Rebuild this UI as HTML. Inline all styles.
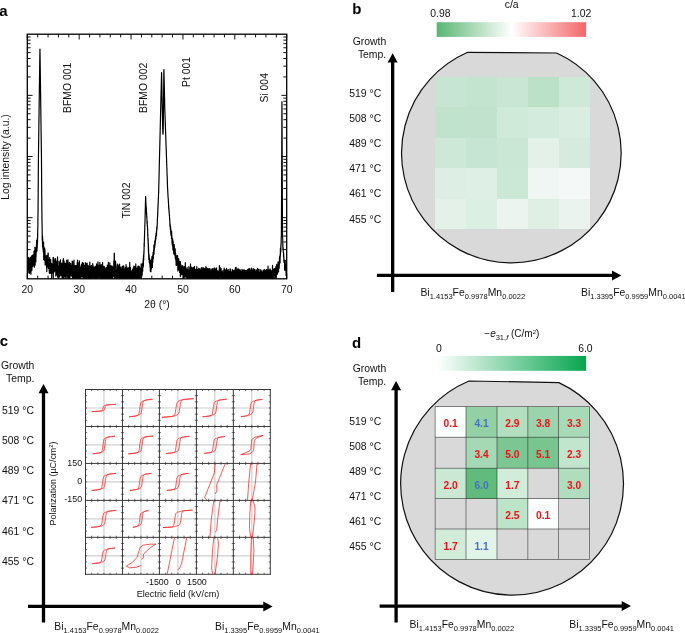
<!DOCTYPE html>
<html><head><meta charset="utf-8"><title>figure</title>
<style>
html,body{margin:0;padding:0;background:#fff;}
body{width:685px;height:633px;overflow:hidden;font-family:"Liberation Sans",sans-serif;}
svg{display:block;font-family:"Liberation Sans",sans-serif;will-change:transform;}
</style></head><body>
<svg width="685" height="633" viewBox="0 0 685 633">
<rect x="0" y="0" width="685" height="633" fill="#fff"/>
<text x="-0.7" y="16.3" font-size="15" text-anchor="start" font-weight="bold" font-style="normal" fill="#000">a</text>
<defs><clipPath id="clipA"><rect x="27.3" y="34.2" width="259.4" height="244.6"/></clipPath></defs>
<path d="M27.30 266.45 L27.35 263.06 L27.40 266.28 L27.45 266.67 L27.50 269.49 L27.55 266.16 L27.60 260.41 L27.65 263.33 L27.70 260.70 L27.75 264.04 L27.80 263.40 L27.85 264.27 L27.90 272.70 L27.95 261.38 L28.00 262.85 L28.05 262.86 L28.10 272.71 L28.15 272.93 L28.20 268.99 L28.25 267.03 L28.30 263.58 L28.35 265.06 L28.40 262.62 L28.45 267.73 L28.50 263.47 L28.55 263.09 L28.60 267.74 L28.65 257.46 L28.70 262.33 L28.75 259.61 L28.80 267.45 L28.85 267.96 L28.90 266.14 L28.95 265.03 L29.00 261.87 L29.05 263.45 L29.10 266.49 L29.15 268.77 L29.20 266.76 L29.25 259.27 L29.30 268.00 L29.35 263.30 L29.40 262.51 L29.45 270.97 L29.49 264.02 L29.54 258.75 L29.59 273.22 L29.64 265.58 L29.69 264.57 L29.74 267.73 L29.79 261.97 L29.84 264.27 L29.89 270.52 L29.94 260.50 L29.99 261.12 L30.04 259.94 L30.09 257.87 L30.14 262.29 L30.19 263.25 L30.24 269.48 L30.29 261.13 L30.34 266.34 L30.39 265.59 L30.44 269.15 L30.49 267.79 L30.54 265.81 L30.59 258.14 L30.64 272.35 L30.69 269.77 L30.74 262.31 L30.79 257.36 L30.84 260.84 L30.89 271.50 L30.94 274.16 L30.99 261.61 L31.04 266.24 L31.09 267.86 L31.14 258.96 L31.19 258.41 L31.24 262.18 L31.29 261.77 L31.34 260.96 L31.39 256.24 L31.44 260.11 L31.49 260.46 L31.54 260.29 L31.59 269.22 L31.64 257.25 L31.69 258.50 L31.74 260.15 L31.79 270.70 L31.84 264.86 L31.89 258.73 L31.94 269.78 L31.99 262.74 L32.04 257.85 L32.09 267.42 L32.14 255.40 L32.19 259.51 L32.24 262.26 L32.29 260.27 L32.34 258.93 L32.39 260.94 L32.44 256.85 L32.49 264.05 L32.54 262.93 L32.59 257.05 L32.64 260.93 L32.69 264.65 L32.74 257.21 L32.79 255.12 L32.84 262.57 L32.89 266.37 L32.94 261.10 L32.99 261.07 L33.04 261.60 L33.09 254.90 L33.14 264.43 L33.19 255.29 L33.24 265.22 L33.29 263.14 L33.34 257.42 L33.39 255.44 L33.44 256.37 L33.49 258.21 L33.54 258.88 L33.59 258.74 L33.64 257.05 L33.69 259.81 L33.74 257.95 L33.79 256.74 L33.83 258.76 L33.88 255.82 L33.93 256.44 L33.98 251.00 L34.03 257.10 L34.08 259.86 L34.13 259.52 L34.18 257.97 L34.23 254.43 L34.28 258.98 L34.33 256.13 L34.38 250.76 L34.43 267.23 L34.48 261.48 L34.53 256.10 L34.58 255.41 L34.63 255.83 L34.68 258.19 L34.73 254.06 L34.78 255.24 L34.83 258.06 L34.88 247.39 L34.93 254.51 L34.98 257.68 L35.03 255.80 L35.08 256.10 L35.13 255.32 L35.18 265.04 L35.23 256.53 L35.28 251.11 L35.33 258.66 L35.38 254.42 L35.43 250.77 L35.48 250.92 L35.53 248.60 L35.58 259.54 L35.63 254.47 L35.68 254.21 L35.73 250.73 L35.78 248.98 L35.83 261.83 L35.88 248.59 L35.93 256.98 L35.98 249.48 L36.03 256.63 L36.08 250.65 L36.13 247.17 L36.18 251.24 L36.23 249.87 L36.28 247.72 L36.33 249.52 L36.38 249.99 L36.43 244.69 L36.48 245.92 L36.53 249.83 L36.58 240.23 L36.63 252.01 L36.68 245.22 L36.73 248.50 L36.78 246.92 L36.83 244.90 L36.88 245.97 L36.93 244.39 L36.98 250.62 L37.03 250.12 L37.08 243.28 L37.13 247.50 L37.18 247.19 L37.23 247.96 L37.28 239.57 L37.33 240.42 L37.38 237.86 L37.43 243.76 L37.48 240.33 L37.53 242.64 L37.58 236.52 L37.63 233.08 L37.68 237.43 L37.73 229.53 L37.78 228.43 L37.83 228.05 L37.88 228.39 L37.93 217.97 L37.98 216.36 L38.03 212.42 L38.08 205.66 L38.12 199.79 L38.17 192.37 L38.22 188.43 L38.27 179.53 L38.32 172.29 L38.37 165.17 L38.42 158.78 L38.47 154.97 L38.52 150.56 L38.57 147.46 L38.62 143.92 L38.67 139.85 L38.72 136.95 L38.77 134.12 L38.82 129.81 L38.87 126.69 L38.92 122.25 L38.97 118.79 L39.02 115.42 L39.07 111.64 L39.12 107.84 L39.17 104.37 L39.22 100.51 L39.27 97.13 L39.32 93.31 L39.37 89.62 L39.42 85.97 L39.47 82.65 L39.52 78.80 L39.57 75.50 L39.62 71.74 L39.67 68.18 L39.72 64.22 L39.77 60.78 L39.82 57.02 L39.87 53.38 L39.92 49.71 L39.97 49.13 L40.02 52.72 L40.07 56.25 L40.12 60.04 L40.17 63.65 L40.22 67.25 L40.27 71.02 L40.32 74.80 L40.37 78.36 L40.42 81.80 L40.47 85.83 L40.52 89.32 L40.57 92.70 L40.62 96.36 L40.67 100.13 L40.72 103.61 L40.77 107.36 L40.82 111.31 L40.87 115.05 L40.92 118.44 L40.97 121.61 L41.02 125.65 L41.07 129.38 L41.12 132.94 L41.17 136.84 L41.22 139.86 L41.27 143.90 L41.32 146.75 L41.37 151.65 L41.42 153.80 L41.47 157.84 L41.52 166.14 L41.57 171.64 L41.62 179.54 L41.67 188.46 L41.72 193.89 L41.77 198.92 L41.82 205.90 L41.87 209.48 L41.92 214.25 L41.97 218.67 L42.02 223.13 L42.07 224.52 L42.12 228.78 L42.17 231.74 L42.22 240.12 L42.27 234.62 L42.32 235.09 L42.37 240.27 L42.42 241.61 L42.46 236.06 L42.51 246.80 L42.56 241.22 L42.61 236.55 L42.66 246.37 L42.71 242.27 L42.76 239.43 L42.81 245.49 L42.86 243.98 L42.91 243.41 L42.96 249.17 L43.01 247.03 L43.06 246.26 L43.11 245.05 L43.16 247.91 L43.21 248.75 L43.26 251.70 L43.31 249.90 L43.36 246.37 L43.41 249.03 L43.46 252.42 L43.51 252.67 L43.56 241.99 L43.61 246.93 L43.66 248.73 L43.71 259.67 L43.76 249.27 L43.81 249.95 L43.86 246.39 L43.91 250.59 L43.96 252.41 L44.01 250.74 L44.06 259.37 L44.11 249.53 L44.16 252.03 L44.21 255.76 L44.26 249.19 L44.31 247.80 L44.36 258.90 L44.41 256.50 L44.46 253.37 L44.51 253.92 L44.56 256.16 L44.61 258.43 L44.66 247.99 L44.71 251.79 L44.76 259.82 L44.81 260.57 L44.86 250.03 L44.91 252.63 L44.96 249.94 L45.01 253.56 L45.06 259.75 L45.11 255.77 L45.16 264.91 L45.21 259.79 L45.26 257.37 L45.31 255.47 L45.36 260.20 L45.41 258.07 L45.46 256.13 L45.51 256.56 L45.56 255.78 L45.61 257.43 L45.66 259.56 L45.71 255.64 L45.76 258.41 L45.81 261.91 L45.86 261.27 L45.91 258.98 L45.96 259.53 L46.01 258.66 L46.06 259.35 L46.11 258.83 L46.16 260.12 L46.21 264.66 L46.26 258.28 L46.31 256.08 L46.36 258.45 L46.41 260.91 L46.46 258.62 L46.51 264.22 L46.56 268.04 L46.61 260.36 L46.66 264.41 L46.71 258.04 L46.75 265.24 L46.80 271.56 L46.85 265.27 L46.90 255.28 L46.95 262.82 L47.00 266.91 L47.05 264.55 L47.10 259.59 L47.15 259.77 L47.20 261.06 L47.25 256.21 L47.30 259.22 L47.35 262.07 L47.40 259.80 L47.45 255.86 L47.50 258.53 L47.55 258.41 L47.60 266.85 L47.65 263.08 L47.70 259.75 L47.75 263.84 L47.80 258.59 L47.85 260.47 L47.90 259.34 L47.95 263.79 L48.00 253.16 L48.05 258.26 L48.10 264.02 L48.15 262.84 L48.20 253.20 L48.25 264.76 L48.30 259.99 L48.35 259.64 L48.40 263.49 L48.45 268.48 L48.50 262.91 L48.55 262.30 L48.60 259.35 L48.65 260.76 L48.70 263.78 L48.75 260.59 L48.80 261.88 L48.85 263.24 L48.90 263.89 L48.95 265.20 L49.00 261.52 L49.05 268.75 L49.10 267.00 L49.15 264.36 L49.20 270.67 L49.25 266.34 L49.30 273.11 L49.35 267.50 L49.40 262.38 L49.45 262.44 L49.50 264.96 L49.55 265.77 L49.60 270.90 L49.65 257.61 L49.70 262.87 L49.75 260.61 L49.80 268.81 L49.85 265.85 L49.90 272.94 L49.95 262.03 L50.00 261.45 L50.05 273.42 L50.10 265.50 L50.15 262.79 L50.20 272.98 L50.25 273.30 L50.30 270.05 L50.35 268.20 L50.40 271.60 L50.45 265.43 L50.50 264.59 L50.55 263.08 L50.60 262.84 L50.65 259.66 L50.70 261.05 L50.75 271.49 L50.80 268.02 L50.85 270.47 L50.90 270.58 L50.95 266.28 L51.00 265.94 L51.05 264.01 L51.09 272.96 L51.14 271.47 L51.19 266.20 L51.24 267.00 L51.29 267.52 L51.34 266.47 L51.39 269.55 L51.44 263.41 L51.49 264.85 L51.54 266.70 L51.59 269.30 L51.64 267.15 L51.69 278.37 L51.74 270.75 L51.79 266.32 L51.84 273.12 L51.89 265.72 L51.94 265.96 L51.99 272.65 L52.04 267.72 L52.09 268.03 L52.14 264.79 L52.19 264.20 L52.24 266.89 L52.29 270.51 L52.34 267.42 L52.39 267.09 L52.44 263.83 L52.49 265.65 L52.54 270.08 L52.59 272.90 L52.64 268.58 L52.69 270.24 L52.74 271.91 L52.79 267.52 L52.84 269.21 L52.89 266.62 L52.94 264.93 L52.99 268.94 L53.04 257.58 L53.09 268.58 L53.14 262.65 L53.19 266.70 L53.24 262.63 L53.29 277.80 L53.34 270.60 L53.39 266.27 L53.44 264.83 L53.49 257.71 L53.54 266.02 L53.59 262.10 L53.64 264.24 L53.69 263.51 L53.74 265.33 L53.79 268.15 L53.84 265.38 L53.89 272.30 L53.94 262.64 L53.99 272.07 L54.04 266.53 L54.09 258.82 L54.14 268.59 L54.19 267.54 L54.24 262.83 L54.29 267.55 L54.34 271.28 L54.39 266.62 L54.44 265.30 L54.49 264.79 L54.54 271.20 L54.59 260.51 L54.64 260.88 L54.69 267.73 L54.74 266.71 L54.79 269.75 L54.84 262.00 L54.89 271.03 L54.94 265.10 L54.99 270.05 L55.04 271.03 L55.09 264.96 L55.14 262.42 L55.19 268.02 L55.24 271.03 L55.29 264.64 L55.34 268.25 L55.39 266.75 L55.43 261.73 L55.48 263.37 L55.53 270.42 L55.58 258.62 L55.63 268.10 L55.68 264.87 L55.73 271.05 L55.78 268.36 L55.83 276.04 L55.88 260.77 L55.93 262.53 L55.98 273.68 L56.03 275.00 L56.08 275.54 L56.13 263.38 L56.18 270.35 L56.23 268.57 L56.28 269.72 L56.33 268.87 L56.38 273.23 L56.43 268.25 L56.48 274.84 L56.53 268.70 L56.58 267.11 L56.63 266.46 L56.68 269.46 L56.73 272.50 L56.78 267.78 L56.83 270.64 L56.88 261.95 L56.93 265.29 L56.98 269.02 L57.03 270.64 L57.08 271.69 L57.13 272.76 L57.18 270.14 L57.23 267.34 L57.28 266.43 L57.33 266.22 L57.38 259.85 L57.43 271.79 L57.48 268.57 L57.53 256.97 L57.58 277.07 L57.63 271.01 L57.68 267.97 L57.73 268.04 L57.78 267.00 L57.83 269.79 L57.88 267.19 L57.93 268.51 L57.98 265.52 L58.03 277.29 L58.08 272.76 L58.13 268.79 L58.18 273.45 L58.23 273.52 L58.28 266.19 L58.33 271.76 L58.38 266.18 L58.43 265.73 L58.48 267.58 L58.53 266.74 L58.58 269.35 L58.63 275.25 L58.68 269.04 L58.73 267.01 L58.78 271.31 L58.83 269.38 L58.88 265.81 L58.93 272.92 L58.98 266.29 L59.03 261.18 L59.08 271.49 L59.13 268.38 L59.18 269.68 L59.23 262.57 L59.28 267.70 L59.33 265.28 L59.38 272.16 L59.43 269.13 L59.48 269.11 L59.53 277.10 L59.58 263.05 L59.63 265.33 L59.68 277.01 L59.72 265.99 L59.77 269.71 L59.82 267.25 L59.87 267.60 L59.92 275.92 L59.97 270.12 L60.02 262.92 L60.07 271.77 L60.12 273.81 L60.17 275.34 L60.22 274.72 L60.27 267.81 L60.32 262.13 L60.37 267.43 L60.42 268.21 L60.47 259.89 L60.52 271.61 L60.57 272.31 L60.62 267.06 L60.67 266.98 L60.72 273.88 L60.77 274.59 L60.82 268.09 L60.87 268.28 L60.92 275.24 L60.97 270.25 L61.02 271.80 L61.07 267.42 L61.12 269.89 L61.17 269.76 L61.22 270.97 L61.27 264.97 L61.32 263.57 L61.37 271.06 L61.42 265.86 L61.47 272.84 L61.52 269.12 L61.57 266.29 L61.62 263.10 L61.67 271.18 L61.72 269.79 L61.77 268.64 L61.82 276.25 L61.87 269.41 L61.92 272.55 L61.97 267.94 L62.02 274.62 L62.07 278.46 L62.12 269.36 L62.17 268.43 L62.22 272.02 L62.27 265.82 L62.32 270.78 L62.37 272.30 L62.42 267.56 L62.47 276.67 L62.52 272.64 L62.57 269.68 L62.62 266.03 L62.67 270.34 L62.72 268.31 L62.77 272.58 L62.82 268.36 L62.87 262.66 L62.92 272.74 L62.97 259.73 L63.02 272.56 L63.07 269.58 L63.12 268.94 L63.17 265.38 L63.22 275.28 L63.27 279.19 L63.32 267.15 L63.37 266.37 L63.42 267.09 L63.47 258.69 L63.52 268.86 L63.57 268.66 L63.62 265.84 L63.67 268.19 L63.72 262.78 L63.77 275.36 L63.82 271.46 L63.87 285.35 L63.92 266.37 L63.97 271.46 L64.02 265.91 L64.06 260.77 L64.11 269.83 L64.16 270.96 L64.21 272.07 L64.26 273.61 L64.31 272.68 L64.36 267.15 L64.41 269.68 L64.46 269.57 L64.51 270.63 L64.56 266.03 L64.61 267.79 L64.66 270.51 L64.71 267.09 L64.76 270.57 L64.81 275.10 L64.86 263.80 L64.91 267.95 L64.96 274.24 L65.01 265.39 L65.06 268.47 L65.11 277.00 L65.16 263.19 L65.21 268.54 L65.26 266.21 L65.31 269.12 L65.36 270.63 L65.41 276.96 L65.46 265.90 L65.51 269.85 L65.56 271.27 L65.61 268.52 L65.66 269.66 L65.71 267.17 L65.76 271.68 L65.81 270.17 L65.86 279.68 L65.91 271.93 L65.96 267.20 L66.01 264.44 L66.06 271.68 L66.11 270.59 L66.16 263.42 L66.21 271.53 L66.26 266.99 L66.31 263.04 L66.36 269.90 L66.41 264.94 L66.46 273.29 L66.51 269.22 L66.56 270.44 L66.61 269.62 L66.66 265.38 L66.71 260.11 L66.76 273.12 L66.81 272.72 L66.86 268.05 L66.91 274.90 L66.96 268.06 L67.01 267.75 L67.06 271.40 L67.11 267.93 L67.16 277.16 L67.21 266.99 L67.26 277.15 L67.31 273.32 L67.36 272.69 L67.41 272.00 L67.46 266.60 L67.51 269.85 L67.56 272.00 L67.61 267.93 L67.66 263.60 L67.71 270.19 L67.76 268.69 L67.81 265.04 L67.86 269.11 L67.91 276.03 L67.96 259.83 L68.01 261.02 L68.06 279.21 L68.11 270.43 L68.16 268.52 L68.21 266.23 L68.26 267.48 L68.31 271.51 L68.36 275.04 L68.40 269.86 L68.45 265.97 L68.50 275.22 L68.55 274.94 L68.60 270.42 L68.65 279.06 L68.70 271.49 L68.75 272.29 L68.80 268.44 L68.85 273.50 L68.90 274.32 L68.95 272.12 L69.00 270.57 L69.05 273.35 L69.10 270.31 L69.15 267.23 L69.20 265.42 L69.25 263.25 L69.30 273.91 L69.35 272.27 L69.40 281.58 L69.45 262.46 L69.50 273.66 L69.55 270.55 L69.60 268.22 L69.65 276.54 L69.70 268.48 L69.75 270.54 L69.80 278.66 L69.85 269.21 L69.90 265.45 L69.95 278.86 L70.00 267.07 L70.05 269.57 L70.10 268.47 L70.15 268.61 L70.20 265.02 L70.25 271.47 L70.30 266.82 L70.35 272.32 L70.40 267.44 L70.45 274.15 L70.50 270.98 L70.55 263.27 L70.60 268.64 L70.65 271.21 L70.70 275.66 L70.75 274.07 L70.80 269.71 L70.85 266.60 L70.90 268.75 L70.95 268.34 L71.00 270.72 L71.05 264.90 L71.10 272.30 L71.15 273.02 L71.20 266.85 L71.25 270.29 L71.30 271.81 L71.35 273.16 L71.40 271.72 L71.45 267.97 L71.50 269.10 L71.55 276.02 L71.60 268.81 L71.65 269.84 L71.70 275.09 L71.75 267.38 L71.80 271.86 L71.85 272.12 L71.90 267.30 L71.95 265.11 L72.00 273.72 L72.05 268.80 L72.10 274.57 L72.15 260.99 L72.20 272.86 L72.25 265.66 L72.30 273.56 L72.35 267.27 L72.40 261.41 L72.45 282.08 L72.50 272.61 L72.55 268.58 L72.60 271.09 L72.65 273.68 L72.69 261.72 L72.74 270.35 L72.79 278.08 L72.84 267.14 L72.89 278.43 L72.94 265.91 L72.99 273.30 L73.04 270.10 L73.09 265.46 L73.14 270.22 L73.19 276.97 L73.24 278.34 L73.29 265.81 L73.34 267.65 L73.39 274.40 L73.44 267.16 L73.49 268.68 L73.54 268.05 L73.59 280.89 L73.64 272.11 L73.69 267.01 L73.74 267.71 L73.79 267.10 L73.84 281.80 L73.89 270.07 L73.94 268.73 L73.99 260.18 L74.04 275.07 L74.09 272.27 L74.14 270.64 L74.19 267.12 L74.24 272.79 L74.29 266.04 L74.34 274.34 L74.39 269.70 L74.44 273.18 L74.49 270.16 L74.54 273.92 L74.59 277.99 L74.64 266.29 L74.69 269.58 L74.74 273.34 L74.79 270.01 L74.84 266.74 L74.89 275.23 L74.94 271.35 L74.99 268.62 L75.04 268.68 L75.09 272.37 L75.14 280.31 L75.19 265.72 L75.24 269.51 L75.29 270.83 L75.34 272.13 L75.39 269.80 L75.44 272.80 L75.49 275.49 L75.54 274.21 L75.59 273.58 L75.64 273.65 L75.69 276.10 L75.74 268.28 L75.79 276.78 L75.84 268.19 L75.89 275.47 L75.94 269.47 L75.99 265.24 L76.04 270.09 L76.09 274.21 L76.14 270.74 L76.19 270.33 L76.24 278.71 L76.29 273.67 L76.34 270.28 L76.39 273.06 L76.44 270.63 L76.49 267.93 L76.54 267.80 L76.59 267.22 L76.64 268.54 L76.69 272.27 L76.74 271.07 L76.79 272.20 L76.84 272.39 L76.89 271.80 L76.94 278.71 L76.99 272.49 L77.03 271.12 L77.08 275.37 L77.13 271.12 L77.18 268.88 L77.23 271.76 L77.28 262.43 L77.33 282.68 L77.38 271.95 L77.43 279.19 L77.48 266.98 L77.53 260.06 L77.58 282.23 L77.63 270.52 L77.68 268.91 L77.73 272.41 L77.78 268.78 L77.83 281.08 L77.88 267.54 L77.93 269.53 L77.98 270.98 L78.03 273.70 L78.08 268.44 L78.13 273.25 L78.18 270.17 L78.23 273.37 L78.28 281.13 L78.33 271.24 L78.38 270.27 L78.43 267.99 L78.48 275.02 L78.53 271.26 L78.58 268.56 L78.63 270.52 L78.68 265.99 L78.73 262.90 L78.78 275.18 L78.83 279.70 L78.88 267.60 L78.93 264.82 L78.98 267.33 L79.03 267.78 L79.08 273.91 L79.13 274.33 L79.18 267.49 L79.23 275.22 L79.28 279.25 L79.33 275.61 L79.38 260.88 L79.43 263.23 L79.48 274.23 L79.53 274.43 L79.58 270.23 L79.63 274.52 L79.68 265.78 L79.73 271.54 L79.78 276.03 L79.83 265.80 L79.88 273.80 L79.93 270.29 L79.98 271.26 L80.03 272.61 L80.08 269.87 L80.13 274.30 L80.18 279.43 L80.23 281.05 L80.28 276.87 L80.33 274.61 L80.38 271.33 L80.43 271.01 L80.48 268.95 L80.53 270.75 L80.58 274.78 L80.63 274.40 L80.68 280.68 L80.73 272.01 L80.78 269.26 L80.83 269.08 L80.88 271.80 L80.93 272.04 L80.98 267.41 L81.03 271.21 L81.08 268.24 L81.13 268.88 L81.18 270.41 L81.23 265.91 L81.28 273.84 L81.33 272.89 L81.37 274.89 L81.42 274.84 L81.47 264.90 L81.52 264.06 L81.57 271.21 L81.62 268.97 L81.67 266.48 L81.72 268.00 L81.77 266.36 L81.82 276.93 L81.87 274.17 L81.92 269.47 L81.97 265.43 L82.02 270.91 L82.07 275.15 L82.12 272.92 L82.17 274.28 L82.22 275.16 L82.27 265.18 L82.32 274.13 L82.37 271.27 L82.42 262.47 L82.47 266.49 L82.52 269.99 L82.57 274.09 L82.62 269.69 L82.67 264.71 L82.72 268.82 L82.77 266.20 L82.82 270.98 L82.87 269.27 L82.92 272.28 L82.97 269.64 L83.02 266.06 L83.07 277.75 L83.12 271.68 L83.17 270.42 L83.22 273.94 L83.27 272.78 L83.32 268.18 L83.37 263.20 L83.42 268.84 L83.47 270.08 L83.52 278.30 L83.57 263.52 L83.62 271.12 L83.67 271.59 L83.72 276.39 L83.77 271.69 L83.82 276.30 L83.87 271.16 L83.92 269.54 L83.97 271.32 L84.02 270.31 L84.07 275.23 L84.12 265.60 L84.17 274.36 L84.22 279.52 L84.27 272.30 L84.32 274.85 L84.37 275.95 L84.42 273.05 L84.47 270.29 L84.52 276.71 L84.57 272.10 L84.62 265.65 L84.67 268.70 L84.72 272.17 L84.77 270.98 L84.82 272.03 L84.87 271.72 L84.92 268.51 L84.97 271.92 L85.02 282.15 L85.07 271.61 L85.12 275.45 L85.17 268.86 L85.22 274.22 L85.27 270.92 L85.32 262.62 L85.37 276.16 L85.42 276.51 L85.47 277.78 L85.52 282.12 L85.57 279.84 L85.62 270.06 L85.67 274.37 L85.71 279.81 L85.76 278.10 L85.81 269.03 L85.86 274.99 L85.91 273.18 L85.96 270.22 L86.01 266.02 L86.06 263.64 L86.11 267.35 L86.16 270.99 L86.21 270.83 L86.26 264.22 L86.31 265.75 L86.36 272.96 L86.41 269.72 L86.46 270.42 L86.51 271.38 L86.56 273.81 L86.61 277.45 L86.66 273.96 L86.71 278.42 L86.76 266.61 L86.81 269.42 L86.86 276.93 L86.91 265.92 L86.96 267.98 L87.01 280.04 L87.06 264.11 L87.11 268.32 L87.16 263.21 L87.21 277.06 L87.26 269.47 L87.31 269.91 L87.36 270.82 L87.41 270.95 L87.46 267.35 L87.51 278.24 L87.56 277.13 L87.61 277.80 L87.66 274.12 L87.71 274.33 L87.76 270.17 L87.81 270.58 L87.86 271.54 L87.91 274.65 L87.96 273.62 L88.01 267.80 L88.06 268.57 L88.11 271.27 L88.16 273.11 L88.21 265.36 L88.26 274.31 L88.31 269.05 L88.36 267.00 L88.41 272.87 L88.46 268.34 L88.51 276.61 L88.56 267.58 L88.61 270.90 L88.66 278.69 L88.71 268.99 L88.76 275.64 L88.81 266.50 L88.86 274.71 L88.91 272.45 L88.96 270.58 L89.01 273.19 L89.06 270.68 L89.11 274.17 L89.16 269.01 L89.21 271.72 L89.26 270.89 L89.31 283.84 L89.36 267.03 L89.41 271.62 L89.46 279.59 L89.51 271.37 L89.56 269.86 L89.61 267.41 L89.66 276.52 L89.71 265.48 L89.76 272.47 L89.81 262.04 L89.86 272.42 L89.91 269.02 L89.96 273.39 L90.00 276.68 L90.05 267.33 L90.10 268.11 L90.15 265.54 L90.20 268.31 L90.25 274.31 L90.30 279.09 L90.35 274.66 L90.40 274.76 L90.45 275.38 L90.50 269.44 L90.55 270.48 L90.60 273.00 L90.65 271.12 L90.70 272.46 L90.75 270.96 L90.80 268.77 L90.85 267.93 L90.90 274.84 L90.95 278.44 L91.00 266.04 L91.05 271.37 L91.10 267.35 L91.15 279.04 L91.20 273.29 L91.25 271.74 L91.30 278.16 L91.35 274.11 L91.40 268.92 L91.45 267.48 L91.50 265.40 L91.55 275.64 L91.60 278.00 L91.65 269.76 L91.70 268.06 L91.75 271.09 L91.80 277.57 L91.85 268.71 L91.90 268.67 L91.95 269.64 L92.00 274.02 L92.05 270.66 L92.10 268.69 L92.15 274.34 L92.20 279.96 L92.25 270.57 L92.30 269.95 L92.35 271.85 L92.40 268.31 L92.45 274.47 L92.50 272.27 L92.55 273.25 L92.60 269.60 L92.65 265.46 L92.70 273.02 L92.75 263.61 L92.80 265.74 L92.85 268.73 L92.90 269.55 L92.95 264.77 L93.00 272.72 L93.05 272.43 L93.10 276.58 L93.15 270.03 L93.20 266.51 L93.25 269.79 L93.30 270.24 L93.35 272.83 L93.40 271.27 L93.45 278.18 L93.50 267.72 L93.55 273.75 L93.60 276.78 L93.65 275.24 L93.70 275.57 L93.75 268.52 L93.80 267.70 L93.85 277.90 L93.90 268.24 L93.95 268.39 L94.00 274.51 L94.05 278.47 L94.10 275.24 L94.15 274.75 L94.20 270.61 L94.25 273.55 L94.30 280.84 L94.34 271.06 L94.39 278.69 L94.44 268.35 L94.49 277.26 L94.54 275.03 L94.59 275.73 L94.64 274.38 L94.69 266.78 L94.74 268.58 L94.79 269.59 L94.84 270.73 L94.89 278.76 L94.94 274.29 L94.99 274.43 L95.04 276.29 L95.09 269.98 L95.14 275.26 L95.19 275.13 L95.24 276.59 L95.29 281.00 L95.34 269.65 L95.39 266.69 L95.44 271.35 L95.49 276.30 L95.54 283.82 L95.59 271.36 L95.64 267.16 L95.69 270.87 L95.74 268.33 L95.79 266.12 L95.84 267.53 L95.89 273.99 L95.94 267.84 L95.99 268.95 L96.04 278.76 L96.09 273.84 L96.14 278.27 L96.19 272.56 L96.24 269.76 L96.29 276.73 L96.34 281.02 L96.39 266.87 L96.44 270.58 L96.49 266.18 L96.54 277.85 L96.59 267.84 L96.64 263.77 L96.69 264.04 L96.74 273.02 L96.79 271.03 L96.84 272.78 L96.89 268.10 L96.94 267.95 L96.99 271.77 L97.04 278.02 L97.09 269.15 L97.14 274.17 L97.19 269.60 L97.24 271.08 L97.29 265.61 L97.34 267.57 L97.39 274.10 L97.44 270.74 L97.49 265.06 L97.54 274.48 L97.59 270.41 L97.64 267.37 L97.69 267.11 L97.74 270.07 L97.79 277.88 L97.84 277.62 L97.89 271.17 L97.94 270.61 L97.99 261.95 L98.04 275.90 L98.09 267.61 L98.14 269.08 L98.19 279.42 L98.24 275.72 L98.29 271.51 L98.34 274.32 L98.39 272.85 L98.44 270.30 L98.49 275.69 L98.54 270.32 L98.59 274.95 L98.63 274.55 L98.68 270.05 L98.73 274.68 L98.78 271.05 L98.83 265.80 L98.88 272.10 L98.93 272.84 L98.98 269.27 L99.03 273.79 L99.08 267.88 L99.13 277.76 L99.18 269.74 L99.23 274.44 L99.28 275.68 L99.33 265.14 L99.38 275.90 L99.43 265.20 L99.48 269.60 L99.53 266.42 L99.58 276.46 L99.63 267.44 L99.68 266.41 L99.73 272.75 L99.78 272.80 L99.83 262.43 L99.88 271.54 L99.93 274.08 L99.98 274.97 L100.03 270.47 L100.08 270.94 L100.13 271.55 L100.18 265.38 L100.23 273.68 L100.28 270.38 L100.33 266.44 L100.38 276.60 L100.43 268.12 L100.48 264.96 L100.53 278.12 L100.58 277.01 L100.63 276.76 L100.68 280.25 L100.73 270.48 L100.78 280.29 L100.83 270.30 L100.88 266.49 L100.93 279.26 L100.98 273.66 L101.03 280.57 L101.08 269.19 L101.13 275.48 L101.18 273.45 L101.23 272.09 L101.28 270.13 L101.33 273.81 L101.38 272.25 L101.43 274.67 L101.48 271.86 L101.53 277.37 L101.58 272.07 L101.63 280.65 L101.68 274.44 L101.73 264.69 L101.78 272.01 L101.83 277.76 L101.88 271.31 L101.93 276.52 L101.98 279.45 L102.03 275.51 L102.08 269.41 L102.13 270.82 L102.18 272.76 L102.23 276.34 L102.28 276.99 L102.33 266.98 L102.38 271.38 L102.43 276.45 L102.48 281.44 L102.53 278.25 L102.58 262.51 L102.63 277.31 L102.68 272.70 L102.73 271.53 L102.78 273.05 L102.83 273.57 L102.88 278.28 L102.93 276.90 L102.97 265.66 L103.02 275.63 L103.07 269.02 L103.12 279.66 L103.17 273.57 L103.22 271.35 L103.27 268.27 L103.32 277.22 L103.37 270.03 L103.42 270.86 L103.47 275.57 L103.52 270.51 L103.57 276.26 L103.62 275.82 L103.67 272.49 L103.72 284.06 L103.77 272.88 L103.82 276.71 L103.87 278.69 L103.92 274.24 L103.97 269.39 L104.02 274.16 L104.07 267.40 L104.12 277.40 L104.17 278.06 L104.22 266.27 L104.27 270.85 L104.32 268.68 L104.37 275.98 L104.42 269.25 L104.47 271.41 L104.52 269.87 L104.57 272.35 L104.62 267.66 L104.67 275.23 L104.72 276.58 L104.77 278.78 L104.82 267.85 L104.87 275.62 L104.92 276.93 L104.97 276.49 L105.02 274.37 L105.07 277.91 L105.12 273.71 L105.17 275.16 L105.22 274.83 L105.27 276.58 L105.32 272.33 L105.37 274.45 L105.42 272.02 L105.47 271.49 L105.52 271.14 L105.57 281.85 L105.62 274.78 L105.67 275.89 L105.72 269.43 L105.77 279.24 L105.82 275.55 L105.87 273.75 L105.92 273.94 L105.97 268.58 L106.02 274.40 L106.07 268.69 L106.12 278.77 L106.17 280.25 L106.22 267.69 L106.27 270.79 L106.32 270.59 L106.37 272.03 L106.42 270.60 L106.47 277.71 L106.52 268.77 L106.57 274.80 L106.62 268.63 L106.67 272.18 L106.72 280.96 L106.77 278.03 L106.82 268.08 L106.87 273.12 L106.92 274.23 L106.97 271.58 L107.02 274.36 L107.07 274.87 L107.12 272.14 L107.17 271.98 L107.22 266.56 L107.27 272.37 L107.31 265.13 L107.36 265.44 L107.41 265.78 L107.46 268.37 L107.51 272.05 L107.56 272.02 L107.61 273.17 L107.66 275.68 L107.71 272.85 L107.76 275.30 L107.81 266.10 L107.86 270.47 L107.91 274.48 L107.96 280.74 L108.01 272.81 L108.06 274.36 L108.11 277.21 L108.16 277.43 L108.21 282.17 L108.26 270.35 L108.31 272.87 L108.36 262.42 L108.41 272.73 L108.46 273.23 L108.51 266.91 L108.56 272.07 L108.61 271.94 L108.66 274.19 L108.71 275.18 L108.76 266.70 L108.81 268.67 L108.86 265.85 L108.91 274.10 L108.96 272.50 L109.01 276.36 L109.06 268.81 L109.11 278.55 L109.16 270.40 L109.21 268.31 L109.26 267.07 L109.31 276.63 L109.36 268.34 L109.41 275.67 L109.46 275.85 L109.51 278.26 L109.56 268.09 L109.61 266.16 L109.66 275.17 L109.71 275.87 L109.76 274.09 L109.81 262.79 L109.86 268.70 L109.91 274.96 L109.96 280.27 L110.01 275.51 L110.06 267.99 L110.11 265.32 L110.16 273.79 L110.21 275.60 L110.26 274.83 L110.31 280.67 L110.36 269.10 L110.41 277.28 L110.46 268.50 L110.51 279.92 L110.56 278.06 L110.61 271.55 L110.66 275.92 L110.71 269.62 L110.76 272.65 L110.81 277.67 L110.86 270.25 L110.91 269.39 L110.96 280.80 L111.01 265.53 L111.06 270.74 L111.11 269.71 L111.16 280.58 L111.21 275.75 L111.26 274.18 L111.31 268.48 L111.36 278.89 L111.41 276.45 L111.46 281.31 L111.51 273.73 L111.56 271.36 L111.60 279.85 L111.65 275.22 L111.70 270.72 L111.75 266.51 L111.80 270.12 L111.85 274.01 L111.90 277.71 L111.95 276.69 L112.00 275.54 L112.05 272.16 L112.10 272.94 L112.15 266.21 L112.20 271.61 L112.25 277.27 L112.30 266.69 L112.35 269.03 L112.40 272.35 L112.45 275.79 L112.50 280.66 L112.55 277.07 L112.60 269.18 L112.65 276.15 L112.70 278.33 L112.75 271.99 L112.80 271.80 L112.85 270.39 L112.90 270.20 L112.95 267.25 L113.00 276.31 L113.05 268.94 L113.10 276.94 L113.15 270.06 L113.20 272.07 L113.25 271.82 L113.30 268.99 L113.35 272.85 L113.40 268.43 L113.45 269.36 L113.50 272.25 L113.55 275.17 L113.60 275.96 L113.65 274.99 L113.70 273.57 L113.75 272.71 L113.80 260.82 L113.85 269.45 L113.90 268.15 L113.95 273.14 L114.00 270.53 L114.05 266.58 L114.10 262.12 L114.15 263.60 L114.20 253.25 L114.25 258.34 L114.30 253.01 L114.35 263.79 L114.40 257.95 L114.45 259.20 L114.50 262.01 L114.55 263.25 L114.60 266.73 L114.65 269.06 L114.70 278.74 L114.75 274.85 L114.80 282.17 L114.85 270.20 L114.90 271.56 L114.95 273.63 L115.00 276.28 L115.05 275.28 L115.10 265.65 L115.15 266.10 L115.20 273.09 L115.25 267.83 L115.30 279.53 L115.35 280.99 L115.40 274.88 L115.45 276.53 L115.50 275.20 L115.55 272.12 L115.60 261.08 L115.65 275.64 L115.70 272.67 L115.75 271.79 L115.80 273.01 L115.85 269.24 L115.90 265.96 L115.94 278.09 L115.99 272.24 L116.04 273.99 L116.09 271.49 L116.14 279.31 L116.19 280.26 L116.24 282.61 L116.29 270.84 L116.34 272.14 L116.39 272.60 L116.44 282.82 L116.49 274.46 L116.54 276.06 L116.59 278.82 L116.64 276.73 L116.69 270.18 L116.74 270.78 L116.79 272.99 L116.84 270.90 L116.89 275.43 L116.94 272.63 L116.99 272.75 L117.04 270.75 L117.09 273.20 L117.14 273.51 L117.19 273.48 L117.24 275.62 L117.29 264.25 L117.34 270.92 L117.39 271.25 L117.44 264.03 L117.49 267.48 L117.54 279.44 L117.59 270.23 L117.64 269.68 L117.69 265.62 L117.74 267.83 L117.79 269.94 L117.84 277.86 L117.89 276.58 L117.94 271.89 L117.99 270.98 L118.04 277.22 L118.09 274.55 L118.14 274.62 L118.19 272.71 L118.24 271.64 L118.29 274.15 L118.34 278.12 L118.39 268.14 L118.44 266.77 L118.49 273.40 L118.54 268.99 L118.59 271.24 L118.64 270.40 L118.69 271.10 L118.74 276.15 L118.79 270.74 L118.84 269.05 L118.89 276.71 L118.94 265.36 L118.99 264.88 L119.04 265.92 L119.09 265.28 L119.14 270.10 L119.19 274.39 L119.24 275.48 L119.29 276.38 L119.34 272.53 L119.39 273.12 L119.44 270.39 L119.49 281.42 L119.54 264.05 L119.59 264.19 L119.64 273.11 L119.69 270.38 L119.74 271.16 L119.79 271.94 L119.84 273.87 L119.89 273.51 L119.94 276.44 L119.99 272.31 L120.04 273.11 L120.09 271.77 L120.14 276.57 L120.19 272.86 L120.24 272.83 L120.28 270.68 L120.33 277.45 L120.38 271.40 L120.43 269.22 L120.48 270.71 L120.53 274.56 L120.58 275.07 L120.63 274.01 L120.68 270.21 L120.73 267.04 L120.78 273.69 L120.83 275.71 L120.88 271.58 L120.93 272.25 L120.98 276.82 L121.03 276.11 L121.08 273.46 L121.13 270.45 L121.18 278.01 L121.23 277.28 L121.28 271.12 L121.33 278.14 L121.38 272.63 L121.43 271.69 L121.48 273.51 L121.53 277.29 L121.58 273.30 L121.63 274.44 L121.68 271.76 L121.73 276.55 L121.78 268.86 L121.83 280.03 L121.88 273.80 L121.93 273.04 L121.98 269.37 L122.03 275.60 L122.08 270.97 L122.13 275.43 L122.18 270.23 L122.23 266.39 L122.28 274.74 L122.33 271.37 L122.38 276.93 L122.43 269.34 L122.48 268.43 L122.53 272.95 L122.58 277.80 L122.63 271.54 L122.68 268.67 L122.73 268.90 L122.78 269.97 L122.83 280.69 L122.88 275.92 L122.93 267.63 L122.98 278.19 L123.03 268.75 L123.08 265.87 L123.13 270.18 L123.18 268.80 L123.23 274.49 L123.28 278.19 L123.33 273.53 L123.38 273.93 L123.43 273.31 L123.48 270.44 L123.53 273.71 L123.58 272.38 L123.63 271.49 L123.68 273.14 L123.73 266.05 L123.78 271.43 L123.83 272.80 L123.88 273.99 L123.93 275.72 L123.98 267.97 L124.03 272.55 L124.08 277.60 L124.13 275.46 L124.18 273.70 L124.23 274.98 L124.28 268.98 L124.33 277.95 L124.38 271.26 L124.43 272.59 L124.48 278.02 L124.53 272.96 L124.57 273.54 L124.62 271.23 L124.67 275.01 L124.72 271.99 L124.77 280.04 L124.82 277.64 L124.87 270.15 L124.92 269.17 L124.97 273.21 L125.02 275.64 L125.07 269.02 L125.12 281.81 L125.17 276.47 L125.22 270.59 L125.27 270.67 L125.32 277.43 L125.37 280.97 L125.42 267.62 L125.47 272.59 L125.52 276.88 L125.57 272.97 L125.62 269.73 L125.67 283.88 L125.72 268.94 L125.77 270.35 L125.82 281.77 L125.87 270.24 L125.92 280.53 L125.97 268.83 L126.02 271.67 L126.07 264.59 L126.12 275.71 L126.17 273.18 L126.22 269.20 L126.27 275.84 L126.32 276.11 L126.37 274.73 L126.42 273.50 L126.47 277.66 L126.52 271.36 L126.57 271.13 L126.62 272.93 L126.67 266.72 L126.72 274.56 L126.77 268.23 L126.82 275.47 L126.87 270.33 L126.92 281.19 L126.97 272.46 L127.02 273.94 L127.07 275.26 L127.12 275.74 L127.17 274.65 L127.22 276.19 L127.27 282.25 L127.32 275.68 L127.37 275.49 L127.42 275.39 L127.47 277.59 L127.52 273.79 L127.57 270.25 L127.62 274.27 L127.67 275.26 L127.72 268.07 L127.77 269.52 L127.82 269.73 L127.87 268.84 L127.92 274.59 L127.97 273.78 L128.02 269.01 L128.07 275.53 L128.12 273.74 L128.17 271.81 L128.22 271.83 L128.27 274.39 L128.32 269.51 L128.37 273.99 L128.42 270.50 L128.47 269.19 L128.52 270.75 L128.57 270.47 L128.62 278.03 L128.67 278.65 L128.72 275.81 L128.77 271.46 L128.82 267.56 L128.87 278.29 L128.91 272.11 L128.96 276.78 L129.01 276.28 L129.06 274.41 L129.11 270.65 L129.16 272.47 L129.21 268.80 L129.26 277.32 L129.31 269.91 L129.36 269.75 L129.41 273.02 L129.46 271.48 L129.51 275.60 L129.56 277.76 L129.61 274.95 L129.66 275.93 L129.71 262.33 L129.76 275.28 L129.81 267.04 L129.86 272.53 L129.91 272.12 L129.96 270.48 L130.01 276.49 L130.06 269.83 L130.11 271.88 L130.16 279.51 L130.21 271.03 L130.26 271.21 L130.31 271.59 L130.36 267.30 L130.41 275.01 L130.46 271.37 L130.51 270.48 L130.56 277.00 L130.61 268.77 L130.66 279.25 L130.71 278.64 L130.76 271.34 L130.81 277.78 L130.86 273.80 L130.91 280.05 L130.96 273.06 L131.01 277.96 L131.06 272.03 L131.11 279.60 L131.16 271.63 L131.21 274.42 L131.26 273.09 L131.31 273.61 L131.36 272.84 L131.41 278.74 L131.46 283.82 L131.51 273.21 L131.56 277.16 L131.61 275.20 L131.66 271.73 L131.71 281.45 L131.76 276.46 L131.81 275.84 L131.86 277.66 L131.91 272.11 L131.96 273.92 L132.01 276.70 L132.06 277.37 L132.11 270.30 L132.16 276.05 L132.21 271.15 L132.26 271.66 L132.31 281.08 L132.36 277.78 L132.41 273.35 L132.46 272.07 L132.51 270.42 L132.56 270.34 L132.61 269.46 L132.66 274.89 L132.71 274.23 L132.76 270.44 L132.81 275.10 L132.86 269.39 L132.91 279.85 L132.96 270.91 L133.01 274.08 L133.06 281.39 L133.11 269.68 L133.16 272.21 L133.21 273.30 L133.25 277.76 L133.30 275.28 L133.35 267.68 L133.40 276.75 L133.45 287.51 L133.50 276.87 L133.55 278.27 L133.60 273.92 L133.65 274.99 L133.70 277.10 L133.75 276.81 L133.80 269.45 L133.85 279.26 L133.90 266.03 L133.95 275.61 L134.00 277.84 L134.05 270.43 L134.10 271.27 L134.15 277.64 L134.20 270.58 L134.25 280.87 L134.30 277.15 L134.35 269.17 L134.40 274.44 L134.45 278.69 L134.50 271.47 L134.55 269.96 L134.60 273.50 L134.65 280.74 L134.70 274.81 L134.75 271.84 L134.80 270.52 L134.85 266.45 L134.90 274.44 L134.95 275.37 L135.00 273.57 L135.05 268.88 L135.10 277.23 L135.15 268.51 L135.20 284.56 L135.25 270.42 L135.30 276.15 L135.35 271.69 L135.40 270.83 L135.45 278.21 L135.50 273.77 L135.55 272.52 L135.60 271.22 L135.65 277.19 L135.70 277.44 L135.75 281.21 L135.80 263.90 L135.85 274.20 L135.90 274.32 L135.95 279.47 L136.00 269.94 L136.05 275.59 L136.10 268.04 L136.15 270.23 L136.20 273.35 L136.25 270.70 L136.30 277.92 L136.35 274.74 L136.40 275.76 L136.45 278.56 L136.50 273.36 L136.55 274.01 L136.60 268.05 L136.65 286.98 L136.70 276.14 L136.75 277.14 L136.80 275.30 L136.85 271.85 L136.90 271.92 L136.95 273.32 L137.00 275.34 L137.05 271.58 L137.10 272.08 L137.15 280.86 L137.20 274.48 L137.25 278.97 L137.30 278.19 L137.35 272.87 L137.40 273.20 L137.45 273.00 L137.50 276.95 L137.55 274.23 L137.59 277.10 L137.64 271.99 L137.69 270.85 L137.74 266.86 L137.79 268.69 L137.84 276.66 L137.89 275.26 L137.94 277.19 L137.99 272.27 L138.04 266.02 L138.09 270.76 L138.14 282.26 L138.19 278.46 L138.24 278.60 L138.29 271.48 L138.34 273.39 L138.39 272.28 L138.44 266.76 L138.49 276.71 L138.54 276.79 L138.59 266.06 L138.64 272.10 L138.69 276.50 L138.74 281.52 L138.79 279.49 L138.84 283.18 L138.89 273.10 L138.94 273.19 L138.99 269.66 L139.04 273.90 L139.09 276.12 L139.14 276.31 L139.19 266.27 L139.24 280.40 L139.29 272.67 L139.34 273.21 L139.39 271.01 L139.44 274.91 L139.49 271.43 L139.54 270.25 L139.59 273.86 L139.64 275.09 L139.69 273.99 L139.74 277.09 L139.79 274.05 L139.84 274.42 L139.89 272.42 L139.94 268.25 L139.99 268.34 L140.04 274.94 L140.09 270.92 L140.14 272.04 L140.19 270.30 L140.24 273.01 L140.29 272.09 L140.34 274.92 L140.39 276.15 L140.44 269.80 L140.49 268.21 L140.54 270.52 L140.59 271.33 L140.64 271.93 L140.69 274.66 L140.74 279.91 L140.79 270.38 L140.84 272.05 L140.89 274.93 L140.94 276.51 L140.99 268.00 L141.04 279.73 L141.09 266.15 L141.14 270.20 L141.19 263.86 L141.24 275.24 L141.29 272.46 L141.34 274.30 L141.39 271.69 L141.44 273.01 L141.49 275.04 L141.54 268.17 L141.59 275.02 L141.64 273.86 L141.69 269.81 L141.74 273.79 L141.79 273.30 L141.84 270.25 L141.88 272.83 L141.93 276.09 L141.98 271.58 L142.03 271.91 L142.08 264.93 L142.13 274.97 L142.18 267.27 L142.23 273.48 L142.28 271.70 L142.33 271.42 L142.38 269.08 L142.43 266.86 L142.48 263.63 L142.53 271.80 L142.58 264.70 L142.63 265.59 L142.68 265.92 L142.73 271.09 L142.78 265.00 L142.83 268.02 L142.88 266.09 L142.93 267.79 L142.98 264.26 L143.03 262.38 L143.08 261.87 L143.13 265.65 L143.18 261.31 L143.23 259.37 L143.28 266.31 L143.33 258.18 L143.38 266.23 L143.43 259.66 L143.48 258.81 L143.53 255.54 L143.58 258.18 L143.63 259.56 L143.68 259.60 L143.73 259.93 L143.78 253.33 L143.83 254.96 L143.88 255.19 L143.93 250.81 L143.98 252.97 L144.03 250.90 L144.08 249.70 L144.13 243.57 L144.18 242.78 L144.23 245.01 L144.28 246.80 L144.33 241.29 L144.38 240.26 L144.43 238.25 L144.48 236.36 L144.53 236.49 L144.58 232.67 L144.63 231.26 L144.68 230.71 L144.73 230.11 L144.78 228.53 L144.83 224.98 L144.88 226.02 L144.93 222.78 L144.98 221.87 L145.03 220.96 L145.08 216.41 L145.13 215.38 L145.18 213.47 L145.23 210.65 L145.28 211.57 L145.33 207.97 L145.38 205.70 L145.43 203.26 L145.48 203.29 L145.53 199.58 L145.58 198.10 L145.63 196.63 L145.68 197.65 L145.73 199.01 L145.78 198.36 L145.83 201.19 L145.88 202.46 L145.93 203.21 L145.98 204.69 L146.03 204.55 L146.08 207.40 L146.13 206.26 L146.18 206.54 L146.22 206.75 L146.27 209.03 L146.32 207.92 L146.37 211.03 L146.42 211.22 L146.47 214.19 L146.52 213.62 L146.57 214.48 L146.62 212.51 L146.67 214.42 L146.72 217.28 L146.77 215.97 L146.82 216.81 L146.87 218.51 L146.92 218.93 L146.97 220.16 L147.02 221.27 L147.07 223.82 L147.12 222.15 L147.17 221.01 L147.22 221.52 L147.27 224.69 L147.32 226.16 L147.37 226.07 L147.42 225.15 L147.47 226.67 L147.52 228.86 L147.57 228.07 L147.62 229.68 L147.67 229.51 L147.72 232.41 L147.77 235.68 L147.82 234.25 L147.87 234.32 L147.92 239.06 L147.97 238.38 L148.02 237.74 L148.07 241.35 L148.12 243.12 L148.17 238.83 L148.22 242.31 L148.27 242.94 L148.32 248.30 L148.37 243.62 L148.42 252.09 L148.47 250.37 L148.52 248.35 L148.57 247.85 L148.62 254.17 L148.67 254.36 L148.72 252.97 L148.77 259.36 L148.82 253.36 L148.87 254.25 L148.92 257.59 L148.97 255.60 L149.02 255.58 L149.07 257.39 L149.12 257.37 L149.17 255.20 L149.22 261.23 L149.27 259.91 L149.32 262.42 L149.37 258.42 L149.42 263.00 L149.47 260.81 L149.52 262.15 L149.57 262.70 L149.62 258.23 L149.67 263.79 L149.72 259.64 L149.77 261.62 L149.82 260.38 L149.87 265.02 L149.92 261.92 L149.97 262.60 L150.02 267.00 L150.07 264.34 L150.12 265.68 L150.17 265.49 L150.22 261.53 L150.27 267.89 L150.32 271.10 L150.37 271.35 L150.42 267.18 L150.47 267.84 L150.52 265.70 L150.56 264.04 L150.61 260.42 L150.66 264.80 L150.71 264.30 L150.76 268.07 L150.81 263.88 L150.86 261.49 L150.91 261.50 L150.96 271.82 L151.01 262.73 L151.06 260.55 L151.11 262.70 L151.16 269.84 L151.21 265.88 L151.26 263.01 L151.31 263.38 L151.36 267.03 L151.41 267.11 L151.46 261.30 L151.51 268.15 L151.56 259.61 L151.61 263.54 L151.66 262.54 L151.71 267.35 L151.76 264.86 L151.81 260.85 L151.86 267.11 L151.91 256.55 L151.96 266.44 L152.01 265.65 L152.06 261.61 L152.11 260.16 L152.16 259.23 L152.21 262.12 L152.26 261.38 L152.31 261.21 L152.36 261.95 L152.41 267.51 L152.46 257.16 L152.51 258.80 L152.56 258.77 L152.61 260.71 L152.66 257.97 L152.71 258.38 L152.76 258.27 L152.81 254.90 L152.86 262.22 L152.91 256.50 L152.96 259.75 L153.01 257.38 L153.06 252.45 L153.11 258.79 L153.16 255.81 L153.21 256.78 L153.26 252.56 L153.31 257.10 L153.36 258.56 L153.41 252.61 L153.46 254.39 L153.51 253.94 L153.56 250.23 L153.61 254.62 L153.66 252.95 L153.71 251.30 L153.76 250.32 L153.81 252.13 L153.86 248.16 L153.91 245.10 L153.96 250.67 L154.01 245.21 L154.06 253.97 L154.11 245.66 L154.16 249.21 L154.21 247.81 L154.26 248.58 L154.31 248.95 L154.36 250.08 L154.41 247.76 L154.46 243.86 L154.51 243.88 L154.56 246.69 L154.61 246.76 L154.66 246.81 L154.71 247.56 L154.76 241.01 L154.81 242.97 L154.85 243.73 L154.90 244.67 L154.95 245.45 L155.00 240.40 L155.05 241.11 L155.10 244.25 L155.15 240.05 L155.20 243.85 L155.25 240.04 L155.30 242.83 L155.35 241.37 L155.40 239.28 L155.45 239.05 L155.50 237.64 L155.55 240.75 L155.60 235.94 L155.65 236.01 L155.70 238.06 L155.75 236.86 L155.80 238.77 L155.85 237.22 L155.90 239.01 L155.95 236.04 L156.00 235.48 L156.05 233.19 L156.10 233.49 L156.15 233.34 L156.20 234.95 L156.25 234.32 L156.30 234.14 L156.35 232.80 L156.40 236.10 L156.45 231.16 L156.50 234.65 L156.55 232.47 L156.60 231.17 L156.65 231.67 L156.70 227.88 L156.75 230.18 L156.80 227.26 L156.85 227.47 L156.90 229.62 L156.95 227.83 L157.00 226.12 L157.05 228.13 L157.10 227.08 L157.15 226.99 L157.20 224.99 L157.25 224.51 L157.30 222.80 L157.35 220.52 L157.40 218.95 L157.45 219.44 L157.50 218.24 L157.55 216.35 L157.60 216.60 L157.65 216.41 L157.70 212.72 L157.75 213.92 L157.80 210.67 L157.85 211.60 L157.90 207.47 L157.95 209.30 L158.00 206.17 L158.05 204.39 L158.10 205.62 L158.15 202.10 L158.20 203.07 L158.25 202.74 L158.30 199.26 L158.35 198.09 L158.40 197.65 L158.45 198.45 L158.50 195.10 L158.55 194.10 L158.60 192.93 L158.65 191.64 L158.70 191.56 L158.75 188.70 L158.80 185.11 L158.85 183.34 L158.90 182.58 L158.95 180.81 L159.00 178.14 L159.05 175.78 L159.10 173.98 L159.15 173.00 L159.19 170.27 L159.24 168.27 L159.29 165.67 L159.34 163.79 L159.39 162.07 L159.44 159.77 L159.49 158.41 L159.54 155.64 L159.59 154.36 L159.64 152.02 L159.69 149.82 L159.74 148.41 L159.79 146.30 L159.84 144.59 L159.89 141.94 L159.94 139.97 L159.99 138.01 L160.04 135.75 L160.09 134.40 L160.14 131.80 L160.19 129.73 L160.24 127.77 L160.29 125.50 L160.34 123.27 L160.39 121.67 L160.44 119.72 L160.49 117.60 L160.54 115.43 L160.59 113.30 L160.64 111.50 L160.69 109.15 L160.74 107.42 L160.79 105.09 L160.84 103.10 L160.89 101.05 L160.94 98.79 L160.99 97.05 L161.04 94.99 L161.09 92.86 L161.14 90.77 L161.19 88.97 L161.24 86.74 L161.29 84.80 L161.34 82.61 L161.39 80.49 L161.44 78.56 L161.49 76.53 L161.54 74.45 L161.59 72.66 L161.64 74.00 L161.69 76.65 L161.74 79.32 L161.79 82.01 L161.84 84.69 L161.89 87.27 L161.94 89.75 L161.99 92.52 L162.04 94.98 L162.09 98.10 L162.14 100.44 L162.19 102.95 L162.24 105.59 L162.29 108.45 L162.34 110.87 L162.39 113.11 L162.44 116.08 L162.49 118.50 L162.54 120.94 L162.59 123.17 L162.64 125.14 L162.69 127.24 L162.74 129.77 L162.79 130.63 L162.84 132.52 L162.89 133.57 L162.94 133.62 L162.99 134.17 L163.04 134.04 L163.09 132.84 L163.14 131.77 L163.19 130.23 L163.24 127.76 L163.29 124.59 L163.34 121.27 L163.39 117.76 L163.44 112.87 L163.48 109.07 L163.53 104.28 L163.58 99.55 L163.63 94.62 L163.68 89.82 L163.73 84.77 L163.78 79.62 L163.83 74.75 L163.88 69.79 L163.93 69.60 L163.98 71.95 L164.03 74.17 L164.08 76.38 L164.13 78.63 L164.18 80.94 L164.23 83.09 L164.28 85.45 L164.33 87.82 L164.38 89.84 L164.43 92.24 L164.48 94.31 L164.53 96.79 L164.58 98.88 L164.63 101.17 L164.68 103.86 L164.73 105.94 L164.78 108.15 L164.83 109.48 L164.88 111.47 L164.93 112.44 L164.98 113.85 L165.03 115.39 L165.08 116.79 L165.13 118.45 L165.18 119.80 L165.23 121.19 L165.28 122.59 L165.33 123.97 L165.38 125.60 L165.43 127.16 L165.48 128.57 L165.53 129.78 L165.58 131.72 L165.63 133.07 L165.68 134.29 L165.73 135.77 L165.78 137.13 L165.83 139.25 L165.88 140.03 L165.93 141.44 L165.98 142.57 L166.03 144.86 L166.08 145.76 L166.13 146.95 L166.18 148.37 L166.23 149.56 L166.28 151.03 L166.33 153.21 L166.38 154.02 L166.43 155.80 L166.48 157.42 L166.53 157.93 L166.58 160.22 L166.63 161.74 L166.68 162.98 L166.73 164.61 L166.78 165.19 L166.83 166.88 L166.88 167.82 L166.93 169.69 L166.98 171.63 L167.03 172.19 L167.08 174.49 L167.13 175.80 L167.18 177.04 L167.23 178.32 L167.28 179.06 L167.33 181.54 L167.38 182.34 L167.43 183.96 L167.48 186.21 L167.53 187.51 L167.58 188.28 L167.63 188.91 L167.68 189.73 L167.73 190.38 L167.78 191.45 L167.82 192.59 L167.87 192.69 L167.92 194.57 L167.97 195.62 L168.02 195.56 L168.07 197.24 L168.12 197.23 L168.17 198.19 L168.22 198.78 L168.27 199.09 L168.32 200.52 L168.37 200.94 L168.42 202.89 L168.47 201.91 L168.52 203.63 L168.57 203.16 L168.62 207.05 L168.67 205.81 L168.72 205.52 L168.77 208.99 L168.82 207.59 L168.87 207.86 L168.92 208.58 L168.97 211.03 L169.02 209.90 L169.07 210.71 L169.12 212.68 L169.17 211.52 L169.22 213.08 L169.27 213.72 L169.32 214.99 L169.37 214.56 L169.42 215.77 L169.47 215.29 L169.52 216.77 L169.57 218.78 L169.62 218.99 L169.67 218.29 L169.72 220.58 L169.77 220.31 L169.82 220.82 L169.87 222.41 L169.92 226.09 L169.97 223.35 L170.02 223.92 L170.07 224.70 L170.12 226.67 L170.17 224.56 L170.22 226.97 L170.27 228.07 L170.32 228.58 L170.37 227.34 L170.42 229.89 L170.47 230.12 L170.52 226.03 L170.57 227.37 L170.62 228.09 L170.67 227.98 L170.72 229.46 L170.77 233.42 L170.82 229.25 L170.87 229.52 L170.92 231.00 L170.97 235.34 L171.02 230.52 L171.07 230.66 L171.12 233.96 L171.17 233.27 L171.22 232.58 L171.27 234.30 L171.32 232.73 L171.37 234.70 L171.42 234.04 L171.47 235.36 L171.52 238.46 L171.57 237.95 L171.62 231.22 L171.67 236.36 L171.72 234.94 L171.77 235.55 L171.82 234.88 L171.87 237.18 L171.92 239.57 L171.97 238.75 L172.02 242.73 L172.07 239.78 L172.12 238.13 L172.16 244.22 L172.21 240.02 L172.26 239.20 L172.31 238.59 L172.36 243.13 L172.41 242.91 L172.46 245.66 L172.51 244.27 L172.56 241.54 L172.61 238.95 L172.66 245.48 L172.71 240.82 L172.76 242.92 L172.81 245.06 L172.86 240.09 L172.91 249.91 L172.96 245.06 L173.01 244.78 L173.06 241.29 L173.11 242.22 L173.16 241.55 L173.21 246.09 L173.26 244.66 L173.31 244.15 L173.36 246.16 L173.41 246.74 L173.46 248.16 L173.51 248.94 L173.56 251.06 L173.61 244.50 L173.66 249.85 L173.71 253.84 L173.76 248.75 L173.81 249.59 L173.86 249.35 L173.91 246.04 L173.96 250.38 L174.01 250.96 L174.06 252.29 L174.11 250.80 L174.16 251.99 L174.21 250.70 L174.26 244.48 L174.31 250.68 L174.36 253.80 L174.41 247.65 L174.46 250.21 L174.51 250.50 L174.56 250.92 L174.61 250.87 L174.66 251.38 L174.71 249.89 L174.76 250.99 L174.81 250.39 L174.86 254.91 L174.91 253.85 L174.96 255.85 L175.01 251.99 L175.06 252.46 L175.11 255.75 L175.16 253.39 L175.21 248.76 L175.26 252.20 L175.31 258.14 L175.36 255.70 L175.41 254.13 L175.46 255.91 L175.51 255.06 L175.56 253.32 L175.61 255.53 L175.66 259.36 L175.71 254.93 L175.76 257.09 L175.81 256.72 L175.86 258.66 L175.91 260.99 L175.96 260.80 L176.01 258.59 L176.06 260.67 L176.11 265.25 L176.16 255.26 L176.21 261.42 L176.26 260.40 L176.31 257.25 L176.36 265.30 L176.41 255.50 L176.45 261.15 L176.50 257.52 L176.55 260.67 L176.60 258.71 L176.65 259.37 L176.70 259.79 L176.75 265.01 L176.80 264.17 L176.85 260.33 L176.90 256.70 L176.95 262.03 L177.00 259.25 L177.05 260.35 L177.10 259.65 L177.15 258.44 L177.20 265.45 L177.25 260.59 L177.30 261.96 L177.35 262.48 L177.40 264.17 L177.45 264.11 L177.50 264.95 L177.55 265.28 L177.60 255.49 L177.65 257.78 L177.70 262.45 L177.75 260.60 L177.80 265.58 L177.85 271.00 L177.90 268.32 L177.95 262.70 L178.00 259.27 L178.05 263.45 L178.10 266.41 L178.15 264.27 L178.20 266.64 L178.25 267.94 L178.30 264.59 L178.35 265.20 L178.40 266.55 L178.45 266.89 L178.50 267.14 L178.55 263.79 L178.60 260.65 L178.65 265.30 L178.70 258.48 L178.75 269.79 L178.80 264.20 L178.85 268.60 L178.90 265.67 L178.95 264.99 L179.00 263.79 L179.05 262.26 L179.10 267.28 L179.15 269.50 L179.20 266.35 L179.25 265.02 L179.30 268.12 L179.35 263.48 L179.40 261.29 L179.45 270.66 L179.50 265.27 L179.55 263.47 L179.60 272.51 L179.65 265.99 L179.70 267.38 L179.75 271.24 L179.80 263.01 L179.85 266.30 L179.90 268.53 L179.95 265.80 L180.00 265.30 L180.05 265.01 L180.10 265.64 L180.15 266.23 L180.20 271.26 L180.25 268.94 L180.30 267.29 L180.35 276.60 L180.40 261.51 L180.45 269.13 L180.50 271.37 L180.55 273.91 L180.60 267.40 L180.65 268.12 L180.70 270.17 L180.75 269.71 L180.79 271.30 L180.84 270.93 L180.89 268.89 L180.94 270.73 L180.99 266.67 L181.04 269.24 L181.09 268.45 L181.14 267.69 L181.19 265.14 L181.24 267.23 L181.29 268.42 L181.34 269.71 L181.39 271.88 L181.44 270.43 L181.49 267.29 L181.54 268.74 L181.59 270.76 L181.64 273.94 L181.69 274.67 L181.74 268.68 L181.79 266.58 L181.84 268.63 L181.89 274.39 L181.94 270.60 L181.99 269.27 L182.04 273.06 L182.09 268.99 L182.14 270.78 L182.19 272.95 L182.24 274.36 L182.29 267.76 L182.34 269.22 L182.39 273.34 L182.44 273.82 L182.49 267.71 L182.54 268.67 L182.59 271.59 L182.64 265.67 L182.69 271.64 L182.74 274.26 L182.79 267.36 L182.84 271.44 L182.89 269.77 L182.94 270.78 L182.99 274.32 L183.04 274.99 L183.09 271.68 L183.14 266.67 L183.19 274.51 L183.24 266.90 L183.29 270.50 L183.34 275.00 L183.39 270.44 L183.44 269.53 L183.49 274.41 L183.54 278.63 L183.59 270.31 L183.64 275.24 L183.69 270.12 L183.74 278.05 L183.79 272.07 L183.84 274.38 L183.89 276.70 L183.94 272.51 L183.99 271.18 L184.04 273.66 L184.09 275.83 L184.14 271.16 L184.19 277.84 L184.24 270.20 L184.29 270.37 L184.34 266.64 L184.39 269.19 L184.44 270.90 L184.49 271.22 L184.54 272.00 L184.59 276.66 L184.64 267.50 L184.69 270.50 L184.74 273.19 L184.79 276.17 L184.84 267.54 L184.89 270.60 L184.94 276.39 L184.99 270.21 L185.04 266.33 L185.09 272.48 L185.13 271.15 L185.18 273.89 L185.23 274.65 L185.28 269.08 L185.33 262.70 L185.38 272.18 L185.43 273.01 L185.48 270.07 L185.53 273.68 L185.58 270.32 L185.63 270.03 L185.68 276.21 L185.73 276.43 L185.78 273.00 L185.83 270.10 L185.88 271.90 L185.93 268.84 L185.98 277.60 L186.03 271.28 L186.08 275.03 L186.13 272.58 L186.18 271.89 L186.23 276.30 L186.28 273.75 L186.33 277.01 L186.38 272.14 L186.43 275.96 L186.48 274.75 L186.53 272.35 L186.58 275.34 L186.63 269.40 L186.68 275.32 L186.73 270.40 L186.78 272.24 L186.83 276.76 L186.88 273.94 L186.93 276.11 L186.98 274.47 L187.03 274.18 L187.08 267.40 L187.13 274.72 L187.18 268.23 L187.23 271.86 L187.28 277.86 L187.33 281.37 L187.38 271.16 L187.43 280.28 L187.48 271.06 L187.53 270.08 L187.58 272.15 L187.63 274.15 L187.68 274.31 L187.73 272.61 L187.78 274.52 L187.83 275.34 L187.88 274.78 L187.93 269.73 L187.98 275.68 L188.03 272.31 L188.08 277.55 L188.13 276.04 L188.18 278.35 L188.23 274.27 L188.28 271.39 L188.33 272.62 L188.38 275.33 L188.43 271.66 L188.48 274.85 L188.53 272.45 L188.58 272.78 L188.63 271.93 L188.68 282.32 L188.73 278.24 L188.78 271.21 L188.83 274.09 L188.88 266.49 L188.93 274.56 L188.98 275.67 L189.03 268.94 L189.08 271.98 L189.13 267.66 L189.18 272.15 L189.23 274.51 L189.28 271.47 L189.33 276.57 L189.38 275.39 L189.42 275.77 L189.47 274.62 L189.52 271.34 L189.57 275.54 L189.62 272.84 L189.67 275.62 L189.72 271.04 L189.77 283.51 L189.82 274.63 L189.87 273.37 L189.92 277.69 L189.97 270.67 L190.02 273.24 L190.07 269.82 L190.12 270.86 L190.17 271.90 L190.22 274.49 L190.27 277.77 L190.32 274.76 L190.37 275.60 L190.42 273.20 L190.47 275.63 L190.52 264.16 L190.57 279.59 L190.62 270.24 L190.67 275.68 L190.72 274.89 L190.77 271.07 L190.82 274.05 L190.87 278.29 L190.92 272.74 L190.97 274.76 L191.02 281.25 L191.07 273.45 L191.12 277.77 L191.17 276.70 L191.22 272.55 L191.27 273.15 L191.32 275.13 L191.37 267.13 L191.42 272.78 L191.47 276.28 L191.52 273.38 L191.57 274.57 L191.62 281.83 L191.67 279.65 L191.72 279.01 L191.77 267.52 L191.82 274.82 L191.87 275.14 L191.92 276.15 L191.97 271.03 L192.02 274.11 L192.07 268.71 L192.12 271.67 L192.17 268.91 L192.22 274.63 L192.27 273.01 L192.32 275.73 L192.37 274.82 L192.42 280.25 L192.47 276.26 L192.52 277.55 L192.57 276.52 L192.62 270.34 L192.67 273.42 L192.72 270.32 L192.77 271.51 L192.82 271.31 L192.87 271.04 L192.92 276.38 L192.97 271.70 L193.02 275.41 L193.07 276.13 L193.12 270.45 L193.17 267.34 L193.22 277.70 L193.27 268.72 L193.32 271.64 L193.37 277.26 L193.42 273.44 L193.47 273.13 L193.52 273.12 L193.57 275.57 L193.62 278.79 L193.67 274.24 L193.72 271.57 L193.76 271.82 L193.81 272.22 L193.86 270.81 L193.91 277.79 L193.96 274.50 L194.01 273.27 L194.06 271.15 L194.11 273.86 L194.16 272.70 L194.21 273.94 L194.26 267.64 L194.31 281.95 L194.36 274.47 L194.41 266.44 L194.46 273.63 L194.51 280.74 L194.56 273.96 L194.61 279.36 L194.66 276.75 L194.71 273.68 L194.76 268.91 L194.81 272.92 L194.86 272.26 L194.91 271.15 L194.96 273.77 L195.01 277.38 L195.06 274.76 L195.11 273.34 L195.16 275.38 L195.21 276.74 L195.26 275.67 L195.31 279.63 L195.36 277.98 L195.41 274.75 L195.46 275.69 L195.51 274.32 L195.56 269.95 L195.61 273.49 L195.66 274.56 L195.71 278.51 L195.76 278.18 L195.81 273.25 L195.86 277.47 L195.91 273.09 L195.96 278.17 L196.01 274.03 L196.06 274.72 L196.11 271.28 L196.16 275.82 L196.21 275.76 L196.26 273.69 L196.31 274.30 L196.36 269.08 L196.41 275.37 L196.46 276.33 L196.51 275.59 L196.56 272.97 L196.61 273.74 L196.66 272.27 L196.71 279.26 L196.76 266.58 L196.81 268.62 L196.86 274.60 L196.91 278.67 L196.96 274.01 L197.01 273.18 L197.06 282.20 L197.11 274.46 L197.16 279.60 L197.21 273.05 L197.26 270.10 L197.31 271.21 L197.36 279.70 L197.41 270.11 L197.46 271.63 L197.51 275.76 L197.56 272.92 L197.61 269.68 L197.66 275.67 L197.71 274.58 L197.76 276.45 L197.81 270.84 L197.86 281.95 L197.91 270.01 L197.96 277.86 L198.01 271.58 L198.06 280.13 L198.10 277.76 L198.15 276.60 L198.20 271.90 L198.25 280.12 L198.30 272.62 L198.35 276.73 L198.40 270.59 L198.45 275.62 L198.50 273.00 L198.55 275.14 L198.60 268.84 L198.65 275.79 L198.70 274.64 L198.75 268.24 L198.80 274.31 L198.85 272.38 L198.90 277.09 L198.95 273.93 L199.00 282.36 L199.05 274.23 L199.10 276.79 L199.15 279.73 L199.20 279.43 L199.25 270.94 L199.30 273.21 L199.35 279.78 L199.40 268.81 L199.45 276.96 L199.50 275.84 L199.55 273.79 L199.60 278.48 L199.65 280.13 L199.70 277.14 L199.75 270.83 L199.80 271.56 L199.85 280.00 L199.90 270.76 L199.95 274.48 L200.00 273.00 L200.05 274.42 L200.10 273.27 L200.15 278.02 L200.20 277.71 L200.25 277.00 L200.30 275.85 L200.35 272.63 L200.40 278.76 L200.45 269.54 L200.50 276.76 L200.55 276.61 L200.60 272.37 L200.65 273.22 L200.70 275.76 L200.75 278.27 L200.80 278.03 L200.85 280.07 L200.90 270.98 L200.95 271.17 L201.00 268.69 L201.05 273.03 L201.10 273.55 L201.15 272.21 L201.20 271.60 L201.25 275.50 L201.30 273.50 L201.35 267.79 L201.40 280.41 L201.45 279.42 L201.50 277.91 L201.55 272.23 L201.60 270.86 L201.65 275.78 L201.70 272.49 L201.75 274.79 L201.80 273.67 L201.85 276.47 L201.90 274.72 L201.95 274.64 L202.00 271.05 L202.05 267.57 L202.10 280.83 L202.15 272.94 L202.20 274.65 L202.25 271.57 L202.30 271.27 L202.35 272.16 L202.39 272.07 L202.44 277.88 L202.49 280.46 L202.54 269.36 L202.59 270.81 L202.64 277.89 L202.69 270.56 L202.74 272.53 L202.79 283.01 L202.84 271.80 L202.89 278.01 L202.94 270.96 L202.99 276.97 L203.04 277.18 L203.09 279.91 L203.14 275.38 L203.19 271.43 L203.24 276.93 L203.29 280.99 L203.34 267.88 L203.39 268.82 L203.44 272.47 L203.49 276.48 L203.54 278.78 L203.59 280.24 L203.64 272.89 L203.69 270.55 L203.74 278.26 L203.79 274.65 L203.84 275.60 L203.89 275.53 L203.94 273.07 L203.99 268.06 L204.04 276.83 L204.09 271.98 L204.14 271.23 L204.19 275.63 L204.24 275.17 L204.29 279.23 L204.34 271.26 L204.39 276.47 L204.44 276.89 L204.49 274.45 L204.54 277.59 L204.59 278.21 L204.64 275.68 L204.69 269.98 L204.74 275.37 L204.79 273.01 L204.84 279.66 L204.89 281.29 L204.94 268.95 L204.99 276.03 L205.04 279.90 L205.09 275.03 L205.14 272.76 L205.19 280.55 L205.24 277.67 L205.29 273.86 L205.34 277.81 L205.39 272.17 L205.44 271.65 L205.49 273.28 L205.54 276.14 L205.59 274.84 L205.64 276.83 L205.69 275.12 L205.74 273.68 L205.79 275.70 L205.84 271.62 L205.89 266.52 L205.94 276.54 L205.99 273.61 L206.04 272.10 L206.09 272.66 L206.14 275.49 L206.19 276.32 L206.24 271.53 L206.29 272.72 L206.34 273.10 L206.39 277.42 L206.44 272.70 L206.49 272.19 L206.54 275.32 L206.59 272.66 L206.64 267.87 L206.69 281.06 L206.73 272.79 L206.78 278.67 L206.83 279.33 L206.88 275.49 L206.93 272.98 L206.98 274.53 L207.03 278.65 L207.08 279.58 L207.13 276.59 L207.18 274.66 L207.23 277.52 L207.28 279.80 L207.33 269.19 L207.38 277.55 L207.43 275.23 L207.48 276.56 L207.53 276.69 L207.58 274.58 L207.63 275.71 L207.68 272.76 L207.73 278.72 L207.78 279.75 L207.83 268.58 L207.88 274.96 L207.93 272.30 L207.98 271.00 L208.03 272.97 L208.08 274.60 L208.13 279.99 L208.18 280.14 L208.23 271.64 L208.28 272.59 L208.33 272.93 L208.38 280.34 L208.43 281.94 L208.48 278.30 L208.53 278.72 L208.58 274.22 L208.63 278.18 L208.68 269.75 L208.73 276.83 L208.78 276.62 L208.83 272.01 L208.88 273.69 L208.93 277.77 L208.98 272.14 L209.03 268.69 L209.08 278.88 L209.13 275.56 L209.18 278.37 L209.23 281.31 L209.28 272.76 L209.33 272.53 L209.38 271.67 L209.43 273.38 L209.48 281.55 L209.53 274.82 L209.58 276.99 L209.63 278.72 L209.68 278.48 L209.73 272.33 L209.78 275.73 L209.83 268.56 L209.88 273.25 L209.93 281.20 L209.98 271.93 L210.03 270.81 L210.08 274.63 L210.13 278.84 L210.18 269.18 L210.23 279.19 L210.28 275.02 L210.33 281.20 L210.38 278.99 L210.43 280.50 L210.48 271.32 L210.53 271.04 L210.58 276.11 L210.63 279.34 L210.68 274.94 L210.73 273.55 L210.78 279.92 L210.83 278.67 L210.88 275.09 L210.93 272.53 L210.98 274.51 L211.03 273.33 L211.07 278.98 L211.12 283.19 L211.17 273.77 L211.22 277.86 L211.27 275.17 L211.32 276.03 L211.37 273.24 L211.42 277.37 L211.47 270.21 L211.52 274.65 L211.57 273.09 L211.62 272.77 L211.67 271.49 L211.72 273.48 L211.77 280.69 L211.82 276.89 L211.87 268.91 L211.92 273.27 L211.97 272.99 L212.02 273.29 L212.07 276.93 L212.12 277.06 L212.17 276.95 L212.22 271.12 L212.27 273.61 L212.32 269.16 L212.37 273.19 L212.42 268.81 L212.47 273.32 L212.52 278.78 L212.57 269.29 L212.62 273.70 L212.67 271.01 L212.72 274.09 L212.77 275.87 L212.82 274.23 L212.87 278.57 L212.92 278.82 L212.97 277.78 L213.02 276.55 L213.07 279.37 L213.12 275.12 L213.17 273.81 L213.22 268.38 L213.27 268.97 L213.32 274.94 L213.37 271.98 L213.42 275.51 L213.47 273.54 L213.52 274.88 L213.57 276.61 L213.62 274.53 L213.67 279.80 L213.72 273.39 L213.77 275.76 L213.82 278.45 L213.87 276.00 L213.92 273.03 L213.97 277.08 L214.02 273.28 L214.07 272.98 L214.12 269.87 L214.17 278.47 L214.22 275.15 L214.27 273.17 L214.32 270.05 L214.37 273.95 L214.42 272.40 L214.47 279.77 L214.52 276.77 L214.57 269.55 L214.62 275.75 L214.67 267.97 L214.72 277.26 L214.77 275.73 L214.82 280.21 L214.87 272.78 L214.92 273.95 L214.97 268.42 L215.02 274.26 L215.07 275.64 L215.12 279.58 L215.17 275.07 L215.22 271.80 L215.27 272.45 L215.32 270.92 L215.36 272.06 L215.41 274.95 L215.46 272.88 L215.51 274.25 L215.56 279.32 L215.61 269.40 L215.66 273.61 L215.71 278.37 L215.76 273.58 L215.81 273.88 L215.86 271.65 L215.91 270.24 L215.96 285.14 L216.01 273.04 L216.06 269.97 L216.11 278.02 L216.16 281.12 L216.21 273.92 L216.26 273.74 L216.31 273.69 L216.36 278.58 L216.41 276.39 L216.46 274.18 L216.51 272.45 L216.56 267.89 L216.61 273.87 L216.66 276.85 L216.71 282.83 L216.76 271.42 L216.81 275.25 L216.86 275.18 L216.91 278.17 L216.96 272.49 L217.01 280.91 L217.06 274.46 L217.11 274.42 L217.16 273.86 L217.21 270.69 L217.26 275.14 L217.31 274.51 L217.36 272.11 L217.41 280.09 L217.46 275.80 L217.51 274.59 L217.56 271.80 L217.61 277.53 L217.66 272.28 L217.71 273.60 L217.76 279.87 L217.81 279.85 L217.86 279.69 L217.91 274.37 L217.96 274.16 L218.01 272.53 L218.06 272.23 L218.11 276.69 L218.16 271.44 L218.21 272.23 L218.26 273.33 L218.31 273.31 L218.36 279.19 L218.41 273.68 L218.46 278.33 L218.51 278.87 L218.56 276.01 L218.61 274.38 L218.66 275.00 L218.71 275.94 L218.76 278.22 L218.81 274.23 L218.86 277.34 L218.91 279.61 L218.96 274.53 L219.01 270.24 L219.06 276.20 L219.11 278.43 L219.16 270.46 L219.21 269.43 L219.26 275.83 L219.31 275.54 L219.36 274.16 L219.41 265.53 L219.46 274.41 L219.51 271.70 L219.56 273.43 L219.61 281.01 L219.66 278.57 L219.70 279.02 L219.75 273.47 L219.80 274.50 L219.85 269.20 L219.90 275.75 L219.95 273.86 L220.00 274.60 L220.05 274.39 L220.10 267.54 L220.15 273.94 L220.20 270.20 L220.25 270.75 L220.30 276.90 L220.35 272.68 L220.40 276.13 L220.45 274.49 L220.50 274.34 L220.55 274.77 L220.60 276.43 L220.65 269.94 L220.70 275.74 L220.75 272.63 L220.80 269.56 L220.85 272.87 L220.90 271.61 L220.95 270.47 L221.00 271.42 L221.05 269.44 L221.10 279.69 L221.15 268.69 L221.20 274.76 L221.25 280.78 L221.30 277.02 L221.35 279.58 L221.40 274.92 L221.45 279.90 L221.50 278.26 L221.55 273.92 L221.60 274.35 L221.65 277.55 L221.70 275.64 L221.75 275.18 L221.80 274.61 L221.85 274.87 L221.90 275.60 L221.95 272.09 L222.00 280.30 L222.05 276.52 L222.10 274.43 L222.15 276.21 L222.20 276.72 L222.25 276.33 L222.30 274.20 L222.35 270.94 L222.40 275.48 L222.45 275.76 L222.50 273.74 L222.55 275.68 L222.60 281.41 L222.65 274.01 L222.70 276.14 L222.75 276.80 L222.80 272.88 L222.85 274.72 L222.90 276.77 L222.95 282.24 L223.00 280.69 L223.05 274.82 L223.10 275.26 L223.15 273.49 L223.20 274.16 L223.25 276.48 L223.30 279.15 L223.35 278.57 L223.40 275.33 L223.45 278.75 L223.50 272.49 L223.55 279.35 L223.60 280.93 L223.65 275.52 L223.70 280.87 L223.75 269.77 L223.80 278.22 L223.85 275.04 L223.90 275.69 L223.95 277.64 L224.00 280.85 L224.04 281.16 L224.09 272.16 L224.14 271.67 L224.19 268.10 L224.24 279.81 L224.29 273.12 L224.34 274.92 L224.39 272.22 L224.44 276.61 L224.49 272.61 L224.54 272.07 L224.59 272.98 L224.64 270.35 L224.69 275.46 L224.74 270.05 L224.79 277.24 L224.84 269.66 L224.89 284.15 L224.94 274.83 L224.99 277.58 L225.04 274.87 L225.09 271.65 L225.14 272.63 L225.19 274.58 L225.24 269.56 L225.29 279.86 L225.34 277.63 L225.39 270.16 L225.44 273.86 L225.49 281.88 L225.54 273.82 L225.59 278.87 L225.64 270.27 L225.69 271.31 L225.74 276.73 L225.79 270.85 L225.84 277.69 L225.89 272.01 L225.94 273.08 L225.99 275.31 L226.04 279.67 L226.09 275.83 L226.14 282.60 L226.19 276.78 L226.24 281.12 L226.29 271.10 L226.34 278.14 L226.39 283.07 L226.44 273.07 L226.49 273.74 L226.54 276.59 L226.59 268.29 L226.64 272.48 L226.69 274.68 L226.74 277.06 L226.79 284.83 L226.84 273.40 L226.89 271.90 L226.94 276.88 L226.99 279.64 L227.04 275.03 L227.09 280.51 L227.14 274.87 L227.19 272.50 L227.24 270.20 L227.29 274.07 L227.34 274.28 L227.39 272.56 L227.44 270.54 L227.49 275.97 L227.54 279.02 L227.59 277.55 L227.64 279.12 L227.69 277.88 L227.74 275.30 L227.79 273.83 L227.84 274.41 L227.89 274.68 L227.94 276.10 L227.99 273.59 L228.04 272.15 L228.09 272.54 L228.14 270.25 L228.19 275.88 L228.24 275.75 L228.29 269.65 L228.33 274.28 L228.38 273.62 L228.43 276.03 L228.48 271.90 L228.53 276.25 L228.58 278.28 L228.63 275.11 L228.68 276.39 L228.73 272.32 L228.78 276.17 L228.83 274.53 L228.88 275.63 L228.93 273.86 L228.98 277.02 L229.03 271.49 L229.08 279.67 L229.13 276.20 L229.18 277.28 L229.23 272.91 L229.28 274.79 L229.33 273.41 L229.38 276.02 L229.43 277.31 L229.48 278.65 L229.53 276.03 L229.58 276.70 L229.63 274.05 L229.68 273.82 L229.73 271.89 L229.78 275.27 L229.83 277.42 L229.88 278.46 L229.93 274.73 L229.98 273.80 L230.03 268.90 L230.08 274.36 L230.13 269.49 L230.18 269.13 L230.23 278.42 L230.28 271.18 L230.33 271.41 L230.38 270.77 L230.43 274.95 L230.48 271.97 L230.53 276.53 L230.58 275.16 L230.63 274.86 L230.68 269.42 L230.73 275.64 L230.78 271.98 L230.83 274.72 L230.88 277.29 L230.93 274.18 L230.98 272.89 L231.03 277.30 L231.08 272.97 L231.13 277.30 L231.18 277.85 L231.23 274.25 L231.28 275.71 L231.33 278.20 L231.38 280.35 L231.43 274.86 L231.48 274.18 L231.53 276.46 L231.58 274.35 L231.63 280.01 L231.68 273.72 L231.73 273.65 L231.78 274.08 L231.83 276.97 L231.88 274.69 L231.93 274.53 L231.98 271.64 L232.03 274.08 L232.08 274.15 L232.13 277.34 L232.18 272.28 L232.23 271.33 L232.28 276.57 L232.33 272.97 L232.38 273.99 L232.43 275.09 L232.48 279.20 L232.53 269.54 L232.58 281.13 L232.63 274.01 L232.67 276.19 L232.72 271.42 L232.77 276.34 L232.82 274.82 L232.87 273.07 L232.92 273.54 L232.97 276.66 L233.02 272.85 L233.07 273.74 L233.12 271.91 L233.17 276.63 L233.22 275.10 L233.27 276.24 L233.32 277.72 L233.37 274.16 L233.42 273.69 L233.47 270.60 L233.52 276.02 L233.57 273.76 L233.62 271.45 L233.67 275.32 L233.72 274.75 L233.77 274.54 L233.82 277.23 L233.87 278.21 L233.92 271.54 L233.97 274.42 L234.02 275.20 L234.07 279.05 L234.12 274.59 L234.17 271.37 L234.22 278.74 L234.27 277.89 L234.32 271.57 L234.37 270.59 L234.42 270.22 L234.47 276.77 L234.52 273.12 L234.57 277.42 L234.62 273.37 L234.67 276.15 L234.72 274.36 L234.77 270.87 L234.82 273.93 L234.87 275.75 L234.92 274.79 L234.97 274.15 L235.02 276.64 L235.07 274.33 L235.12 273.13 L235.17 270.22 L235.22 281.72 L235.27 278.86 L235.32 279.02 L235.37 272.30 L235.42 267.55 L235.47 274.37 L235.52 274.59 L235.57 271.51 L235.62 282.96 L235.67 275.55 L235.72 285.17 L235.77 274.49 L235.82 276.63 L235.87 276.55 L235.92 273.93 L235.97 276.87 L236.02 271.60 L236.07 274.97 L236.12 273.81 L236.17 267.28 L236.22 276.43 L236.27 272.16 L236.32 277.67 L236.37 271.19 L236.42 272.05 L236.47 274.54 L236.52 271.97 L236.57 270.11 L236.62 270.81 L236.67 274.96 L236.72 275.15 L236.77 271.63 L236.82 279.77 L236.87 276.93 L236.92 273.51 L236.97 273.25 L237.01 269.36 L237.06 269.67 L237.11 273.99 L237.16 273.64 L237.21 279.26 L237.26 275.58 L237.31 274.19 L237.36 275.71 L237.41 274.79 L237.46 273.14 L237.51 278.07 L237.56 276.82 L237.61 280.75 L237.66 271.53 L237.71 278.40 L237.76 280.51 L237.81 272.66 L237.86 275.67 L237.91 272.08 L237.96 276.17 L238.01 268.60 L238.06 272.84 L238.11 274.53 L238.16 274.63 L238.21 275.65 L238.26 272.55 L238.31 268.98 L238.36 276.35 L238.41 278.50 L238.46 273.19 L238.51 271.78 L238.56 279.81 L238.61 277.22 L238.66 278.21 L238.71 273.30 L238.76 273.47 L238.81 277.36 L238.86 278.63 L238.91 272.94 L238.96 281.63 L239.01 273.06 L239.06 275.49 L239.11 269.25 L239.16 272.02 L239.21 276.86 L239.26 275.87 L239.31 275.88 L239.36 277.33 L239.41 274.75 L239.46 272.11 L239.51 279.85 L239.56 275.72 L239.61 270.54 L239.66 272.78 L239.71 277.61 L239.76 277.59 L239.81 277.74 L239.86 280.16 L239.91 271.57 L239.96 274.79 L240.01 277.24 L240.06 279.60 L240.11 276.23 L240.16 276.64 L240.21 269.88 L240.26 276.47 L240.31 274.65 L240.36 271.81 L240.41 273.01 L240.46 275.58 L240.51 281.99 L240.56 270.84 L240.61 273.22 L240.66 276.39 L240.71 275.28 L240.76 278.06 L240.81 277.88 L240.86 279.75 L240.91 273.51 L240.96 273.46 L241.01 274.48 L241.06 272.69 L241.11 273.41 L241.16 274.64 L241.21 277.83 L241.26 273.25 L241.31 271.49 L241.35 273.13 L241.40 271.31 L241.45 276.51 L241.50 278.13 L241.55 271.30 L241.60 276.87 L241.65 274.29 L241.70 275.61 L241.75 274.94 L241.80 275.87 L241.85 276.73 L241.90 280.69 L241.95 269.38 L242.00 274.41 L242.05 281.14 L242.10 277.90 L242.15 278.59 L242.20 277.37 L242.25 283.12 L242.30 273.31 L242.35 270.18 L242.40 275.79 L242.45 272.82 L242.50 273.24 L242.55 278.97 L242.60 271.42 L242.65 280.37 L242.70 276.84 L242.75 276.15 L242.80 271.32 L242.85 274.66 L242.90 275.41 L242.95 277.57 L243.00 274.75 L243.05 274.89 L243.10 272.87 L243.15 270.92 L243.20 272.85 L243.25 274.96 L243.30 275.50 L243.35 270.32 L243.40 274.43 L243.45 275.07 L243.50 269.75 L243.55 270.42 L243.60 273.35 L243.65 275.36 L243.70 277.03 L243.75 271.89 L243.80 276.45 L243.85 272.21 L243.90 277.50 L243.95 274.71 L244.00 273.84 L244.05 274.60 L244.10 274.34 L244.15 273.91 L244.20 278.57 L244.25 278.53 L244.30 275.49 L244.35 269.75 L244.40 275.42 L244.45 277.95 L244.50 277.11 L244.55 274.92 L244.60 271.57 L244.65 276.81 L244.70 273.39 L244.75 274.48 L244.80 276.15 L244.85 278.00 L244.90 275.51 L244.95 277.30 L245.00 273.46 L245.05 280.58 L245.10 271.74 L245.15 272.82 L245.20 273.34 L245.25 270.67 L245.30 273.27 L245.35 280.41 L245.40 274.87 L245.45 273.72 L245.50 277.18 L245.55 278.59 L245.60 273.77 L245.64 273.54 L245.69 276.37 L245.74 275.79 L245.79 276.62 L245.84 276.81 L245.89 275.21 L245.94 271.91 L245.99 280.09 L246.04 276.10 L246.09 270.35 L246.14 274.11 L246.19 274.59 L246.24 272.61 L246.29 278.18 L246.34 278.83 L246.39 280.24 L246.44 279.60 L246.49 274.32 L246.54 272.57 L246.59 276.34 L246.64 277.17 L246.69 273.87 L246.74 273.26 L246.79 274.30 L246.84 281.00 L246.89 276.74 L246.94 282.96 L246.99 274.34 L247.04 277.70 L247.09 277.09 L247.14 270.69 L247.19 271.22 L247.24 273.65 L247.29 274.24 L247.34 274.54 L247.39 276.87 L247.44 275.20 L247.49 269.52 L247.54 277.78 L247.59 277.11 L247.64 274.58 L247.69 272.47 L247.74 272.64 L247.79 278.06 L247.84 275.45 L247.89 275.87 L247.94 278.89 L247.99 274.82 L248.04 276.54 L248.09 272.40 L248.14 273.80 L248.19 277.48 L248.24 274.82 L248.29 276.16 L248.34 277.02 L248.39 276.56 L248.44 271.98 L248.49 276.34 L248.54 280.38 L248.59 277.46 L248.64 272.73 L248.69 268.86 L248.74 278.33 L248.79 276.16 L248.84 276.07 L248.89 279.42 L248.94 273.90 L248.99 275.21 L249.04 274.25 L249.09 268.62 L249.14 275.88 L249.19 272.77 L249.24 272.66 L249.29 277.03 L249.34 276.89 L249.39 270.58 L249.44 273.00 L249.49 274.64 L249.54 278.45 L249.59 272.52 L249.64 273.54 L249.69 268.75 L249.74 270.83 L249.79 272.75 L249.84 274.29 L249.89 274.88 L249.94 276.76 L249.98 274.17 L250.03 274.36 L250.08 273.19 L250.13 271.95 L250.18 274.17 L250.23 276.74 L250.28 272.75 L250.33 270.61 L250.38 277.64 L250.43 273.86 L250.48 273.49 L250.53 273.53 L250.58 273.62 L250.63 275.34 L250.68 275.38 L250.73 270.24 L250.78 270.11 L250.83 279.40 L250.88 282.90 L250.93 273.81 L250.98 277.15 L251.03 276.66 L251.08 279.99 L251.13 274.06 L251.18 275.24 L251.23 276.73 L251.28 272.50 L251.33 268.12 L251.38 270.85 L251.43 271.71 L251.48 276.34 L251.53 273.19 L251.58 275.19 L251.63 271.76 L251.68 273.41 L251.73 275.18 L251.78 273.49 L251.83 277.28 L251.88 272.81 L251.93 270.78 L251.98 276.18 L252.03 273.49 L252.08 280.20 L252.13 272.40 L252.18 272.57 L252.23 278.22 L252.28 270.10 L252.33 274.75 L252.38 280.40 L252.43 279.29 L252.48 272.58 L252.53 275.91 L252.58 271.93 L252.63 279.84 L252.68 275.38 L252.73 272.29 L252.78 277.16 L252.83 273.14 L252.88 276.18 L252.93 274.10 L252.98 274.16 L253.03 268.73 L253.08 278.88 L253.13 272.86 L253.18 271.35 L253.23 278.53 L253.28 274.85 L253.33 268.51 L253.38 272.09 L253.43 284.18 L253.48 275.81 L253.53 280.33 L253.58 274.22 L253.63 277.31 L253.68 276.80 L253.73 277.65 L253.78 274.25 L253.83 276.51 L253.88 277.86 L253.93 275.78 L253.98 273.93 L254.03 277.71 L254.08 271.93 L254.13 280.17 L254.18 273.93 L254.23 276.28 L254.28 270.62 L254.32 277.06 L254.37 277.12 L254.42 279.19 L254.47 269.46 L254.52 273.34 L254.57 278.41 L254.62 276.11 L254.67 278.02 L254.72 270.77 L254.77 273.90 L254.82 281.32 L254.87 274.49 L254.92 272.50 L254.97 275.08 L255.02 273.75 L255.07 275.43 L255.12 274.50 L255.17 274.49 L255.22 277.25 L255.27 274.11 L255.32 274.62 L255.37 275.21 L255.42 277.18 L255.47 278.19 L255.52 274.40 L255.57 272.76 L255.62 282.47 L255.67 276.73 L255.72 271.27 L255.77 272.51 L255.82 277.27 L255.87 271.27 L255.92 278.11 L255.97 277.50 L256.02 269.62 L256.07 276.43 L256.12 275.76 L256.17 280.13 L256.22 278.18 L256.27 278.68 L256.32 275.52 L256.37 280.69 L256.42 272.10 L256.47 276.18 L256.52 276.94 L256.57 277.03 L256.62 273.00 L256.67 270.77 L256.72 276.34 L256.77 270.55 L256.82 270.56 L256.87 271.31 L256.92 274.26 L256.97 279.64 L257.02 273.20 L257.07 276.35 L257.12 274.55 L257.17 280.84 L257.22 275.96 L257.27 274.44 L257.32 277.95 L257.37 274.27 L257.42 270.39 L257.47 274.45 L257.52 277.19 L257.57 268.39 L257.62 281.65 L257.67 277.90 L257.72 273.95 L257.77 276.90 L257.82 282.08 L257.87 274.37 L257.92 272.77 L257.97 277.52 L258.02 270.98 L258.07 273.70 L258.12 271.75 L258.17 279.75 L258.22 275.12 L258.27 270.61 L258.32 269.43 L258.37 271.40 L258.42 275.11 L258.47 274.59 L258.52 277.01 L258.57 272.02 L258.61 277.22 L258.66 274.76 L258.71 281.38 L258.76 279.68 L258.81 270.11 L258.86 274.94 L258.91 274.50 L258.96 281.78 L259.01 275.21 L259.06 269.29 L259.11 279.65 L259.16 282.33 L259.21 275.60 L259.26 276.73 L259.31 275.75 L259.36 278.93 L259.41 279.23 L259.46 278.86 L259.51 273.31 L259.56 275.26 L259.61 272.80 L259.66 278.39 L259.71 273.45 L259.76 276.46 L259.81 274.86 L259.86 272.49 L259.91 275.02 L259.96 276.18 L260.01 280.17 L260.06 274.94 L260.11 272.91 L260.16 277.04 L260.21 275.32 L260.26 280.49 L260.31 279.17 L260.36 273.98 L260.41 271.47 L260.46 276.06 L260.51 280.19 L260.56 276.27 L260.61 279.87 L260.66 275.95 L260.71 269.69 L260.76 274.28 L260.81 275.58 L260.86 272.20 L260.91 276.27 L260.96 274.18 L261.01 274.56 L261.06 273.87 L261.11 279.58 L261.16 273.12 L261.21 272.64 L261.26 282.05 L261.31 283.36 L261.36 277.84 L261.41 270.93 L261.46 275.06 L261.51 273.21 L261.56 273.56 L261.61 272.62 L261.66 277.06 L261.71 276.90 L261.76 274.06 L261.81 273.41 L261.86 273.51 L261.91 274.17 L261.96 276.59 L262.01 272.01 L262.06 273.80 L262.11 272.13 L262.16 282.85 L262.21 272.28 L262.26 282.54 L262.31 274.53 L262.36 277.14 L262.41 274.78 L262.46 276.57 L262.51 276.07 L262.56 274.58 L262.61 274.15 L262.66 277.55 L262.71 282.81 L262.76 277.49 L262.81 273.60 L262.86 277.69 L262.91 273.92 L262.95 276.24 L263.00 277.99 L263.05 271.84 L263.10 270.46 L263.15 275.44 L263.20 275.28 L263.25 272.43 L263.30 279.16 L263.35 277.78 L263.40 271.94 L263.45 272.59 L263.50 276.62 L263.55 277.49 L263.60 274.14 L263.65 279.40 L263.70 276.64 L263.75 275.83 L263.80 282.61 L263.85 273.46 L263.90 272.97 L263.95 272.12 L264.00 279.50 L264.05 279.03 L264.10 277.60 L264.15 279.09 L264.20 269.33 L264.25 278.09 L264.30 276.07 L264.35 274.54 L264.40 273.84 L264.45 271.03 L264.50 278.43 L264.55 272.64 L264.60 274.70 L264.65 278.69 L264.70 274.70 L264.75 279.39 L264.80 270.55 L264.85 277.34 L264.90 272.28 L264.95 271.45 L265.00 277.00 L265.05 277.85 L265.10 274.75 L265.15 278.31 L265.20 272.58 L265.25 274.62 L265.30 277.44 L265.35 277.20 L265.40 273.07 L265.45 279.53 L265.50 270.35 L265.55 277.50 L265.60 275.71 L265.65 277.93 L265.70 270.54 L265.75 272.79 L265.80 271.44 L265.85 273.27 L265.90 274.86 L265.95 270.33 L266.00 273.24 L266.05 273.88 L266.10 273.48 L266.15 273.03 L266.20 274.32 L266.25 275.61 L266.30 279.96 L266.35 269.30 L266.40 279.06 L266.45 281.66 L266.50 277.27 L266.55 269.65 L266.60 271.66 L266.65 276.93 L266.70 274.35 L266.75 275.17 L266.80 281.14 L266.85 276.11 L266.90 274.27 L266.95 271.79 L267.00 278.75 L267.05 281.96 L267.10 279.88 L267.15 274.16 L267.20 274.86 L267.25 274.66 L267.29 274.67 L267.34 276.20 L267.39 279.23 L267.44 273.80 L267.49 273.99 L267.54 273.45 L267.59 271.57 L267.64 278.84 L267.69 282.19 L267.74 280.49 L267.79 269.05 L267.84 277.85 L267.89 273.94 L267.94 275.11 L267.99 273.01 L268.04 266.03 L268.09 276.63 L268.14 275.57 L268.19 276.87 L268.24 274.36 L268.29 273.59 L268.34 277.99 L268.39 271.34 L268.44 271.82 L268.49 273.79 L268.54 275.37 L268.59 275.76 L268.64 280.02 L268.69 273.19 L268.74 277.99 L268.79 276.55 L268.84 272.23 L268.89 277.81 L268.94 276.60 L268.99 272.61 L269.04 269.80 L269.09 277.10 L269.14 271.91 L269.19 276.99 L269.24 273.91 L269.29 273.64 L269.34 278.44 L269.39 272.12 L269.44 269.94 L269.49 274.84 L269.54 274.22 L269.59 278.52 L269.64 269.97 L269.69 274.79 L269.74 278.82 L269.79 272.82 L269.84 279.37 L269.89 277.02 L269.94 281.38 L269.99 271.09 L270.04 268.76 L270.09 276.85 L270.14 276.90 L270.19 276.66 L270.24 276.62 L270.29 273.36 L270.34 270.83 L270.39 277.94 L270.44 273.67 L270.49 280.32 L270.54 270.63 L270.59 275.14 L270.64 276.98 L270.69 270.60 L270.74 275.18 L270.79 271.03 L270.84 271.85 L270.89 270.22 L270.94 277.24 L270.99 274.67 L271.04 273.79 L271.09 275.39 L271.14 270.57 L271.19 276.94 L271.24 272.00 L271.29 270.99 L271.34 280.63 L271.39 277.67 L271.44 277.46 L271.49 276.38 L271.54 273.65 L271.58 275.24 L271.63 274.49 L271.68 276.08 L271.73 274.94 L271.78 273.34 L271.83 272.61 L271.88 277.00 L271.93 274.99 L271.98 276.91 L272.03 275.16 L272.08 278.90 L272.13 271.97 L272.18 272.74 L272.23 274.95 L272.28 276.61 L272.33 275.91 L272.38 276.52 L272.43 279.12 L272.48 270.01 L272.53 265.44 L272.58 278.14 L272.63 277.94 L272.68 272.86 L272.73 272.77 L272.78 279.10 L272.83 280.11 L272.88 272.90 L272.93 280.28 L272.98 270.45 L273.03 275.81 L273.08 274.09 L273.13 274.31 L273.18 275.94 L273.23 274.69 L273.28 275.13 L273.33 270.82 L273.38 274.48 L273.43 274.28 L273.48 275.73 L273.53 276.01 L273.58 276.29 L273.63 274.07 L273.68 269.07 L273.73 271.02 L273.78 273.39 L273.83 269.47 L273.88 271.22 L273.93 273.39 L273.98 274.41 L274.03 277.12 L274.08 273.20 L274.13 274.77 L274.18 278.45 L274.23 277.54 L274.28 268.52 L274.33 273.15 L274.38 272.36 L274.43 273.13 L274.48 274.99 L274.53 272.36 L274.58 270.65 L274.63 274.43 L274.68 272.12 L274.73 270.71 L274.78 274.83 L274.83 272.94 L274.88 275.50 L274.93 271.70 L274.98 274.34 L275.03 270.17 L275.08 275.40 L275.13 268.65 L275.18 274.01 L275.23 275.49 L275.28 275.62 L275.33 271.22 L275.38 275.39 L275.43 268.10 L275.48 269.44 L275.53 271.42 L275.58 276.80 L275.63 272.76 L275.68 274.71 L275.73 277.74 L275.78 271.41 L275.83 266.69 L275.88 273.94 L275.92 270.24 L275.97 268.94 L276.02 274.96 L276.07 273.14 L276.12 271.42 L276.17 270.83 L276.22 275.22 L276.27 271.37 L276.32 272.16 L276.37 269.33 L276.42 276.19 L276.47 273.23 L276.52 272.99 L276.57 272.39 L276.62 269.58 L276.67 273.10 L276.72 264.26 L276.77 273.16 L276.82 268.98 L276.87 268.44 L276.92 268.50 L276.97 271.43 L277.02 273.06 L277.07 271.40 L277.12 268.92 L277.17 270.21 L277.22 268.96 L277.27 268.88 L277.32 272.63 L277.37 272.66 L277.42 266.43 L277.47 271.24 L277.52 274.09 L277.57 265.10 L277.62 271.85 L277.67 272.00 L277.72 267.01 L277.77 272.29 L277.82 271.48 L277.87 266.48 L277.92 271.09 L277.97 262.67 L278.02 268.39 L278.07 261.95 L278.12 267.97 L278.17 267.97 L278.22 269.59 L278.27 268.32 L278.32 268.84 L278.37 267.42 L278.42 265.34 L278.47 270.19 L278.52 269.08 L278.57 271.82 L278.62 262.84 L278.67 266.30 L278.72 265.92 L278.77 265.81 L278.82 263.13 L278.87 264.46 L278.92 263.03 L278.97 265.11 L279.02 264.74 L279.07 264.33 L279.12 268.40 L279.17 261.26 L279.22 267.14 L279.27 265.47 L279.32 261.38 L279.37 262.43 L279.42 260.51 L279.47 258.32 L279.52 257.71 L279.57 258.44 L279.62 261.55 L279.67 256.45 L279.72 262.37 L279.77 260.26 L279.82 257.70 L279.87 259.87 L279.92 259.32 L279.97 259.42 L280.02 255.45 L280.07 262.89 L280.12 254.65 L280.17 254.55 L280.21 256.20 L280.26 254.44 L280.31 256.88 L280.36 252.31 L280.41 248.18 L280.46 254.97 L280.51 250.07 L280.56 252.05 L280.61 251.96 L280.66 251.59 L280.71 250.38 L280.76 251.64 L280.81 251.13 L280.86 245.30 L280.91 247.37 L280.96 245.59 L281.01 244.62 L281.06 242.99 L281.11 244.70 L281.16 242.28 L281.21 238.45 L281.26 236.46 L281.31 237.87 L281.36 235.47 L281.41 232.33 L281.46 219.56 L281.51 208.47 L281.56 196.80 L281.61 184.95 L281.66 172.05 L281.71 159.62 L281.76 147.20 L281.81 134.27 L281.86 121.74 L281.91 108.79 L281.96 101.70 L282.01 114.60 L282.06 127.12 L282.11 139.89 L282.16 152.77 L282.21 165.50 L282.26 178.44 L282.31 190.67 L282.36 201.87 L282.41 212.80 L282.46 225.74 L282.51 233.58 L282.56 234.93 L282.61 235.91 L282.66 237.88 L282.71 238.27 L282.76 240.36 L282.81 244.13 L282.86 243.73 L282.91 249.65 L282.96 247.26 L283.01 247.61 L283.06 247.38 L283.11 249.54 L283.16 248.27 L283.21 248.08 L283.26 252.53 L283.31 252.62 L283.36 251.77 L283.41 251.97 L283.46 253.18 L283.51 252.52 L283.56 256.97 L283.61 253.74 L283.66 253.56 L283.71 254.19 L283.76 256.02 L283.81 257.86 L283.86 257.10 L283.91 258.55 L283.96 262.28 L284.01 260.53 L284.06 259.65 L284.11 261.03 L284.16 262.28 L284.21 261.07 L284.26 261.70 L284.31 261.05 L284.36 261.61 L284.41 261.45 L284.46 260.01 L284.51 262.11 L284.55 261.82 L284.60 265.81 L284.65 270.13 L284.70 264.47 L284.75 262.32 L284.80 264.87 L284.85 265.81 L284.90 267.54 L284.95 262.85 L285.00 266.35 L285.05 264.76 L285.10 263.00 L285.15 264.57 L285.20 260.92 L285.25 266.56 L285.30 264.26 L285.35 265.07 L285.40 268.50 L285.45 266.96 L285.50 268.69 L285.55 270.05 L285.60 266.96 L285.65 269.81 L285.70 264.07 L285.75 270.10 L285.80 269.78 L285.85 268.34 L285.90 270.06 L285.95 268.76 L286.00 270.58 L286.05 272.81 L286.10 275.51 L286.15 272.72 L286.20 265.79 L286.25 268.51 L286.30 269.32 L286.35 271.02 L286.40 270.29 L286.45 269.28 L286.50 273.77 L286.55 272.32 L286.60 272.66 L286.65 267.31 L286.70 273.30" fill="none" stroke="#000" stroke-width="1.2" stroke-linejoin="round" clip-path="url(#clipA)"/>
<rect x="27.3" y="34.2" width="259.4" height="244.6" fill="none" stroke="#000" stroke-width="1.3"/>
<path d="M27.3 34.2 v5.3 M27.3 278.8 v-5.3 M37.68 34.2 v3.2 M37.68 278.8 v-3.2 M48.05 34.2 v3.2 M48.05 278.8 v-3.2 M58.43 34.2 v3.2 M58.43 278.8 v-3.2 M68.8 34.2 v3.2 M68.8 278.8 v-3.2 M79.18 34.2 v5.3 M79.18 278.8 v-5.3 M89.56 34.2 v3.2 M89.56 278.8 v-3.2 M99.93 34.2 v3.2 M99.93 278.8 v-3.2 M110.31 34.2 v3.2 M110.31 278.8 v-3.2 M120.68 34.2 v3.2 M120.68 278.8 v-3.2 M131.06 34.2 v5.3 M131.06 278.8 v-5.3 M141.44 34.2 v3.2 M141.44 278.8 v-3.2 M151.81 34.2 v3.2 M151.81 278.8 v-3.2 M162.19 34.2 v3.2 M162.19 278.8 v-3.2 M172.56 34.2 v3.2 M172.56 278.8 v-3.2 M182.94 34.2 v5.3 M182.94 278.8 v-5.3 M193.32 34.2 v3.2 M193.32 278.8 v-3.2 M203.69 34.2 v3.2 M203.69 278.8 v-3.2 M214.07 34.2 v3.2 M214.07 278.8 v-3.2 M224.44 34.2 v3.2 M224.44 278.8 v-3.2 M234.82 34.2 v5.3 M234.82 278.8 v-5.3 M245.2 34.2 v3.2 M245.2 278.8 v-3.2 M255.57 34.2 v3.2 M255.57 278.8 v-3.2 M265.95 34.2 v3.2 M265.95 278.8 v-3.2 M276.32 34.2 v3.2 M276.32 278.8 v-3.2 M286.7 34.2 v5.3 M286.7 278.8 v-5.3 M27.3 260.39 h3.3 M286.7 260.39 h-3.3 M27.3 249.62 h3.3 M286.7 249.62 h-3.3 M27.3 241.98 h3.3 M286.7 241.98 h-3.3 M27.3 236.06 h3.3 M286.7 236.06 h-3.3 M27.3 231.22 h3.3 M286.7 231.22 h-3.3 M27.3 227.12 h3.3 M286.7 227.12 h-3.3 M27.3 223.58 h3.3 M286.7 223.58 h-3.3 M27.3 220.45 h3.3 M286.7 220.45 h-3.3 M27.3 217.65 h5.3 M286.7 217.65 h-5.3 M27.3 199.24 h3.3 M286.7 199.24 h-3.3 M27.3 188.47 h3.3 M286.7 188.47 h-3.3 M27.3 180.83 h3.3 M286.7 180.83 h-3.3 M27.3 174.91 h3.3 M286.7 174.91 h-3.3 M27.3 170.07 h3.3 M286.7 170.07 h-3.3 M27.3 165.97 h3.3 M286.7 165.97 h-3.3 M27.3 162.43 h3.3 M286.7 162.43 h-3.3 M27.3 159.3 h3.3 M286.7 159.3 h-3.3 M27.3 156.5 h5.3 M286.7 156.5 h-5.3 M27.3 138.09 h3.3 M286.7 138.09 h-3.3 M27.3 127.32 h3.3 M286.7 127.32 h-3.3 M27.3 119.68 h3.3 M286.7 119.68 h-3.3 M27.3 113.76 h3.3 M286.7 113.76 h-3.3 M27.3 108.92 h3.3 M286.7 108.92 h-3.3 M27.3 104.82 h3.3 M286.7 104.82 h-3.3 M27.3 101.28 h3.3 M286.7 101.28 h-3.3 M27.3 98.15 h3.3 M286.7 98.15 h-3.3 M27.3 95.35 h5.3 M286.7 95.35 h-5.3 M27.3 76.94 h3.3 M286.7 76.94 h-3.3 M27.3 66.17 h3.3 M286.7 66.17 h-3.3 M27.3 58.53 h3.3 M286.7 58.53 h-3.3 M27.3 52.61 h3.3 M286.7 52.61 h-3.3 M27.3 47.77 h3.3 M286.7 47.77 h-3.3 M27.3 43.67 h3.3 M286.7 43.67 h-3.3 M27.3 40.13 h3.3 M286.7 40.13 h-3.3 M27.3 37 h3.3 M286.7 37 h-3.3" fill="none" stroke="#000" stroke-width="0.95"/>
<text x="27.3" y="292.9" font-size="10.4" text-anchor="middle" font-weight="normal" font-style="normal" fill="#111">20</text>
<text x="79.18" y="292.9" font-size="10.4" text-anchor="middle" font-weight="normal" font-style="normal" fill="#111">30</text>
<text x="131.06" y="292.9" font-size="10.4" text-anchor="middle" font-weight="normal" font-style="normal" fill="#111">40</text>
<text x="182.94" y="292.9" font-size="10.4" text-anchor="middle" font-weight="normal" font-style="normal" fill="#111">50</text>
<text x="234.82" y="292.9" font-size="10.4" text-anchor="middle" font-weight="normal" font-style="normal" fill="#111">60</text>
<text x="286.7" y="292.9" font-size="10.4" text-anchor="middle" font-weight="normal" font-style="normal" fill="#111">70</text>
<text x="157" y="308.4" font-size="10.4" text-anchor="middle" font-weight="normal" font-style="normal" fill="#111">2θ (°)</text>
<text x="8.9" y="157" font-size="10.4" text-anchor="middle" font-weight="normal" font-style="normal" fill="#111" transform="rotate(-90 8.9 157)">Log intensity (a.u.)</text>
<text x="70.6" y="87.8" font-size="10.4" text-anchor="middle" font-weight="normal" font-style="normal" fill="#111" transform="rotate(-90 70.6 87.8)">BFMO 001</text>
<text x="147" y="87.8" font-size="10.4" text-anchor="middle" font-weight="normal" font-style="normal" fill="#111" transform="rotate(-90 147 87.8)">BFMO 002</text>
<text x="189.9" y="72" font-size="10.4" text-anchor="middle" font-weight="normal" font-style="normal" fill="#111" transform="rotate(-90 189.9 72)">Pt 001</text>
<text x="267.9" y="87.8" font-size="10.4" text-anchor="middle" font-weight="normal" font-style="normal" fill="#111" transform="rotate(-90 267.9 87.8)">Si 004</text>
<text x="130.2" y="200.4" font-size="10.4" text-anchor="middle" font-weight="normal" font-style="normal" fill="#111" transform="rotate(-90 130.2 200.4)">TiN 002</text>
<text x="352.2" y="13.7" font-size="15" text-anchor="start" font-weight="bold" font-style="normal" fill="#000">b</text>
<defs><linearGradient id="gb" x1="0" x2="1" y1="0" y2="0"><stop offset="0" stop-color="#58b672"/><stop offset="0.5" stop-color="#ffffff"/><stop offset="1" stop-color="#f4666a"/></linearGradient></defs>
<rect x="436.7" y="22.2" width="149.4" height="14.7" fill="url(#gb)"/>
<text x="440.4" y="17" font-size="10.4" text-anchor="middle" font-weight="normal" font-style="normal" fill="#111">0.98</text>
<text x="581.2" y="17" font-size="10.4" text-anchor="middle" font-weight="normal" font-style="normal" fill="#111">1.02</text>
<text x="511.7" y="8" font-size="10.4" text-anchor="middle" font-weight="normal" font-style="normal" fill="#111">c/a</text>
<path d="M467.7 52.3 L556.6 53 A109.8 109.8 0 1 1 467.7 52.3 Z" fill="#d9d9d9" stroke="#111" stroke-width="1.2" stroke-linejoin="round"/>
<g shape-rendering="crispEdges">
<rect x="434.7" y="76.5" width="31.3" height="30.8" fill="#c6e5d2"/>
<rect x="465.7" y="76.5" width="31.6" height="30.8" fill="#c3e4cf"/>
<rect x="497" y="76.5" width="31.1" height="30.8" fill="#c9e6d4"/>
<rect x="527.8" y="76.5" width="31" height="30.8" fill="#bbe1c9"/>
<rect x="558.5" y="76.5" width="31.3" height="30.8" fill="#cee9d8"/>
<rect x="434.7" y="107" width="31.3" height="31.1" fill="#c1e3ce"/>
<rect x="465.7" y="107" width="31.6" height="31.1" fill="#c1e3ce"/>
<rect x="497" y="107" width="31.1" height="31.1" fill="#d0eada"/>
<rect x="527.8" y="107" width="31" height="31.1" fill="#d3ebdc"/>
<rect x="558.5" y="107" width="31.3" height="31.1" fill="#d9eee1"/>
<rect x="434.7" y="137.8" width="31.3" height="30.5" fill="#cde8d7"/>
<rect x="465.7" y="137.8" width="31.6" height="30.5" fill="#c6e5d2"/>
<rect x="497" y="137.8" width="31.1" height="30.5" fill="#cae7d5"/>
<rect x="527.8" y="137.8" width="31" height="30.5" fill="#e4f1e8"/>
<rect x="558.5" y="137.8" width="31.3" height="30.5" fill="#d6ebde"/>
<rect x="434.7" y="168" width="31.3" height="30.8" fill="#ddefe4"/>
<rect x="465.7" y="168" width="31.6" height="30.8" fill="#deefe5"/>
<rect x="497" y="168" width="31.1" height="30.8" fill="#cbe7d6"/>
<rect x="527.8" y="168" width="31" height="30.8" fill="#f0f6f3"/>
<rect x="558.5" y="168" width="31.3" height="30.8" fill="#f4f8f7"/>
<rect x="434.7" y="198.5" width="31.3" height="30.3" fill="#e4f1e8"/>
<rect x="465.7" y="198.5" width="31.6" height="30.3" fill="#dcefe3"/>
<rect x="497" y="198.5" width="31.1" height="30.3" fill="#ecf4ef"/>
<rect x="527.8" y="198.5" width="31" height="30.3" fill="#dfefe4"/>
<rect x="558.5" y="198.5" width="31.3" height="30.3" fill="#ebf3ee"/>
</g>
<path d="M392.65 62 V292 M376.9 275.4 H612.5" stroke="#000" stroke-width="3.3" fill="none"/>
<path d="M392.65 53.2 l5 9.3 h-10 z M621.3 275.4 l-9.3 -5 v10 z" fill="#000"/>
<text x="386.2" y="45" font-size="10.4" text-anchor="end" font-weight="normal" font-style="normal" fill="#111">Growth</text>
<text x="386.2" y="57.8" font-size="10.4" text-anchor="end" font-weight="normal" font-style="normal" fill="#111">Temp.</text>
<text x="349.3" y="96.7" font-size="10.4" text-anchor="start" font-weight="normal" font-style="normal" fill="#111">519 °C</text>
<text x="349.3" y="121.86" font-size="10.4" text-anchor="start" font-weight="normal" font-style="normal" fill="#111">508 °C</text>
<text x="349.3" y="147.02" font-size="10.4" text-anchor="start" font-weight="normal" font-style="normal" fill="#111">489 °C</text>
<text x="349.3" y="172.18" font-size="10.4" text-anchor="start" font-weight="normal" font-style="normal" fill="#111">471 °C</text>
<text x="349.3" y="197.34" font-size="10.4" text-anchor="start" font-weight="normal" font-style="normal" fill="#111">461 °C</text>
<text x="349.3" y="222.5" font-size="10.4" text-anchor="start" font-weight="normal" font-style="normal" fill="#111">455 °C</text>
<text x="420.4" y="295.8" font-size="10.4" text-anchor="start" font-weight="normal" font-style="normal" fill="#111">Bi<tspan font-size="7.5" dy="3">1.4153</tspan><tspan dy="-3">Fe</tspan><tspan font-size="7.5" dy="3">0.9978</tspan><tspan dy="-3">Mn</tspan><tspan font-size="7.5" dy="3">0.0022</tspan></text>
<text x="581" y="295.8" font-size="10.4" text-anchor="start" font-weight="normal" font-style="normal" fill="#111">Bi<tspan font-size="7.5" dy="3">1.3395</tspan><tspan dy="-3">Fe</tspan><tspan font-size="7.5" dy="3">0.9959</tspan><tspan dy="-3">Mn</tspan><tspan font-size="7.5" dy="3">0.0041</tspan></text>
<text x="-0.2" y="346.3" font-size="15" text-anchor="start" font-weight="bold" font-style="normal" fill="#000">c</text>
<path d="M43.5 392.8 V622.6 M28 606.4 H263.8" stroke="#000" stroke-width="3.3" fill="none"/>
<path d="M43.5 384 l5 9.3 h-10 z M272.6 606.4 l-9.3 -5 v10 z" fill="#000"/>
<text x="34.4" y="368.8" font-size="10.4" text-anchor="end" font-weight="normal" font-style="normal" fill="#111">Growth</text>
<text x="34.4" y="381.6" font-size="10.4" text-anchor="end" font-weight="normal" font-style="normal" fill="#111">Temp.</text>
<text x="2" y="413.7" font-size="10.4" text-anchor="start" font-weight="normal" font-style="normal" fill="#111">519 °C</text>
<text x="2" y="443.92" font-size="10.4" text-anchor="start" font-weight="normal" font-style="normal" fill="#111">508 °C</text>
<text x="2" y="474.14" font-size="10.4" text-anchor="start" font-weight="normal" font-style="normal" fill="#111">489 °C</text>
<text x="2" y="504.36" font-size="10.4" text-anchor="start" font-weight="normal" font-style="normal" fill="#111">471 °C</text>
<text x="2" y="534.58" font-size="10.4" text-anchor="start" font-weight="normal" font-style="normal" fill="#111">461 °C</text>
<text x="2" y="564.8" font-size="10.4" text-anchor="start" font-weight="normal" font-style="normal" fill="#111">455 °C</text>
<text x="54.3" y="629.6" font-size="10.4" text-anchor="start" font-weight="normal" font-style="normal" fill="#111">Bi<tspan font-size="7.5" dy="3">1.4153</tspan><tspan dy="-3">Fe</tspan><tspan font-size="7.5" dy="3">0.9978</tspan><tspan dy="-3">Mn</tspan><tspan font-size="7.5" dy="3">0.0022</tspan></text>
<text x="215" y="629.6" font-size="10.4" text-anchor="start" font-weight="normal" font-style="normal" fill="#111">Bi<tspan font-size="7.5" dy="3">1.3395</tspan><tspan dy="-3">Fe</tspan><tspan font-size="7.5" dy="3">0.9959</tspan><tspan dy="-3">Mn</tspan><tspan font-size="7.5" dy="3">0.0041</tspan></text>
<text x="82.1" y="466.2" font-size="8.9" text-anchor="end" font-weight="normal" font-style="normal" fill="#111">150</text>
<text x="82.1" y="484" font-size="8.9" text-anchor="end" font-weight="normal" font-style="normal" fill="#111">0</text>
<text x="82.1" y="502.1" font-size="8.9" text-anchor="end" font-weight="normal" font-style="normal" fill="#111">-150</text>
<text x="56.2" y="483.4" font-size="8.9" text-anchor="middle" font-weight="normal" font-style="normal" fill="#111" transform="rotate(-90 56.2 483.4)">Polarization (µC/cm<tspan font-size="6" dy="-3">2</tspan><tspan dy="3">)</tspan></text>
<text x="157.4" y="584.6" font-size="8.9" text-anchor="middle" font-weight="normal" font-style="normal" fill="#111">-1500</text>
<text x="178.2" y="584.6" font-size="8.9" text-anchor="middle" font-weight="normal" font-style="normal" fill="#111">0</text>
<text x="196.9" y="584.6" font-size="8.9" text-anchor="middle" font-weight="normal" font-style="normal" fill="#111">1500</text>
<text x="178" y="596.8" font-size="9.05" text-anchor="middle" font-weight="normal" font-style="normal" fill="#111">Electric field (kV/cm)</text>
<path d="M85.5 407.98 h36.96 M103.98 389.5 v36.96 M122.46 407.98 h36.96 M140.94 389.5 v36.96 M159.42 407.98 h36.96 M177.9 389.5 v36.96 M196.38 407.98 h36.96 M214.86 389.5 v36.96 M233.34 407.98 h36.96 M251.82 389.5 v36.96 M85.5 444.94 h36.96 M103.98 426.46 v36.96 M122.46 444.94 h36.96 M140.94 426.46 v36.96 M159.42 444.94 h36.96 M177.9 426.46 v36.96 M196.38 444.94 h36.96 M214.86 426.46 v36.96 M233.34 444.94 h36.96 M251.82 426.46 v36.96 M85.5 481.9 h36.96 M103.98 463.42 v36.96 M122.46 481.9 h36.96 M140.94 463.42 v36.96 M159.42 481.9 h36.96 M177.9 463.42 v36.96 M196.38 481.9 h36.96 M214.86 463.42 v36.96 M233.34 481.9 h36.96 M251.82 463.42 v36.96 M85.5 518.86 h36.96 M103.98 500.38 v36.96 M122.46 518.86 h36.96 M140.94 500.38 v36.96 M159.42 518.86 h36.96 M177.9 500.38 v36.96 M196.38 518.86 h36.96 M214.86 500.38 v36.96 M233.34 518.86 h36.96 M251.82 500.38 v36.96 M85.5 555.82 h36.96 M103.98 537.34 v36.96 M122.46 555.82 h36.96 M140.94 537.34 v36.96 M159.42 555.82 h36.96 M177.9 537.34 v36.96 M196.38 555.82 h36.96 M214.86 537.34 v36.96 M233.34 555.82 h36.96 M251.82 537.34 v36.96" stroke="#d0d0d0" stroke-width="1.2" fill="none"/>
<path d="M91.66 389.5 v1.6 M91.66 426.46 v-1.6 M85.5 395.66 h1.6 M122.46 395.66 h-1.6 M97.82 389.5 v1.6 M97.82 426.46 v-1.6 M85.5 401.82 h1.6 M122.46 401.82 h-1.6 M103.98 389.5 v1.6 M103.98 426.46 v-1.6 M85.5 407.98 h1.6 M122.46 407.98 h-1.6 M110.14 389.5 v1.6 M110.14 426.46 v-1.6 M85.5 414.14 h1.6 M122.46 414.14 h-1.6 M116.3 389.5 v1.6 M116.3 426.46 v-1.6 M85.5 420.3 h1.6 M122.46 420.3 h-1.6 M128.62 389.5 v1.6 M128.62 426.46 v-1.6 M122.46 395.66 h1.6 M159.42 395.66 h-1.6 M134.78 389.5 v1.6 M134.78 426.46 v-1.6 M122.46 401.82 h1.6 M159.42 401.82 h-1.6 M140.94 389.5 v1.6 M140.94 426.46 v-1.6 M122.46 407.98 h1.6 M159.42 407.98 h-1.6 M147.1 389.5 v1.6 M147.1 426.46 v-1.6 M122.46 414.14 h1.6 M159.42 414.14 h-1.6 M153.26 389.5 v1.6 M153.26 426.46 v-1.6 M122.46 420.3 h1.6 M159.42 420.3 h-1.6 M165.58 389.5 v1.6 M165.58 426.46 v-1.6 M159.42 395.66 h1.6 M196.38 395.66 h-1.6 M171.74 389.5 v1.6 M171.74 426.46 v-1.6 M159.42 401.82 h1.6 M196.38 401.82 h-1.6 M177.9 389.5 v1.6 M177.9 426.46 v-1.6 M159.42 407.98 h1.6 M196.38 407.98 h-1.6 M184.06 389.5 v1.6 M184.06 426.46 v-1.6 M159.42 414.14 h1.6 M196.38 414.14 h-1.6 M190.22 389.5 v1.6 M190.22 426.46 v-1.6 M159.42 420.3 h1.6 M196.38 420.3 h-1.6 M202.54 389.5 v1.6 M202.54 426.46 v-1.6 M196.38 395.66 h1.6 M233.34 395.66 h-1.6 M208.7 389.5 v1.6 M208.7 426.46 v-1.6 M196.38 401.82 h1.6 M233.34 401.82 h-1.6 M214.86 389.5 v1.6 M214.86 426.46 v-1.6 M196.38 407.98 h1.6 M233.34 407.98 h-1.6 M221.02 389.5 v1.6 M221.02 426.46 v-1.6 M196.38 414.14 h1.6 M233.34 414.14 h-1.6 M227.18 389.5 v1.6 M227.18 426.46 v-1.6 M196.38 420.3 h1.6 M233.34 420.3 h-1.6 M239.5 389.5 v1.6 M239.5 426.46 v-1.6 M233.34 395.66 h1.6 M270.3 395.66 h-1.6 M245.66 389.5 v1.6 M245.66 426.46 v-1.6 M233.34 401.82 h1.6 M270.3 401.82 h-1.6 M251.82 389.5 v1.6 M251.82 426.46 v-1.6 M233.34 407.98 h1.6 M270.3 407.98 h-1.6 M257.98 389.5 v1.6 M257.98 426.46 v-1.6 M233.34 414.14 h1.6 M270.3 414.14 h-1.6 M264.14 389.5 v1.6 M264.14 426.46 v-1.6 M233.34 420.3 h1.6 M270.3 420.3 h-1.6 M91.66 426.46 v1.6 M91.66 463.42 v-1.6 M85.5 432.62 h1.6 M122.46 432.62 h-1.6 M97.82 426.46 v1.6 M97.82 463.42 v-1.6 M85.5 438.78 h1.6 M122.46 438.78 h-1.6 M103.98 426.46 v1.6 M103.98 463.42 v-1.6 M85.5 444.94 h1.6 M122.46 444.94 h-1.6 M110.14 426.46 v1.6 M110.14 463.42 v-1.6 M85.5 451.1 h1.6 M122.46 451.1 h-1.6 M116.3 426.46 v1.6 M116.3 463.42 v-1.6 M85.5 457.26 h1.6 M122.46 457.26 h-1.6 M128.62 426.46 v1.6 M128.62 463.42 v-1.6 M122.46 432.62 h1.6 M159.42 432.62 h-1.6 M134.78 426.46 v1.6 M134.78 463.42 v-1.6 M122.46 438.78 h1.6 M159.42 438.78 h-1.6 M140.94 426.46 v1.6 M140.94 463.42 v-1.6 M122.46 444.94 h1.6 M159.42 444.94 h-1.6 M147.1 426.46 v1.6 M147.1 463.42 v-1.6 M122.46 451.1 h1.6 M159.42 451.1 h-1.6 M153.26 426.46 v1.6 M153.26 463.42 v-1.6 M122.46 457.26 h1.6 M159.42 457.26 h-1.6 M165.58 426.46 v1.6 M165.58 463.42 v-1.6 M159.42 432.62 h1.6 M196.38 432.62 h-1.6 M171.74 426.46 v1.6 M171.74 463.42 v-1.6 M159.42 438.78 h1.6 M196.38 438.78 h-1.6 M177.9 426.46 v1.6 M177.9 463.42 v-1.6 M159.42 444.94 h1.6 M196.38 444.94 h-1.6 M184.06 426.46 v1.6 M184.06 463.42 v-1.6 M159.42 451.1 h1.6 M196.38 451.1 h-1.6 M190.22 426.46 v1.6 M190.22 463.42 v-1.6 M159.42 457.26 h1.6 M196.38 457.26 h-1.6 M202.54 426.46 v1.6 M202.54 463.42 v-1.6 M196.38 432.62 h1.6 M233.34 432.62 h-1.6 M208.7 426.46 v1.6 M208.7 463.42 v-1.6 M196.38 438.78 h1.6 M233.34 438.78 h-1.6 M214.86 426.46 v1.6 M214.86 463.42 v-1.6 M196.38 444.94 h1.6 M233.34 444.94 h-1.6 M221.02 426.46 v1.6 M221.02 463.42 v-1.6 M196.38 451.1 h1.6 M233.34 451.1 h-1.6 M227.18 426.46 v1.6 M227.18 463.42 v-1.6 M196.38 457.26 h1.6 M233.34 457.26 h-1.6 M239.5 426.46 v1.6 M239.5 463.42 v-1.6 M233.34 432.62 h1.6 M270.3 432.62 h-1.6 M245.66 426.46 v1.6 M245.66 463.42 v-1.6 M233.34 438.78 h1.6 M270.3 438.78 h-1.6 M251.82 426.46 v1.6 M251.82 463.42 v-1.6 M233.34 444.94 h1.6 M270.3 444.94 h-1.6 M257.98 426.46 v1.6 M257.98 463.42 v-1.6 M233.34 451.1 h1.6 M270.3 451.1 h-1.6 M264.14 426.46 v1.6 M264.14 463.42 v-1.6 M233.34 457.26 h1.6 M270.3 457.26 h-1.6 M91.66 463.42 v1.6 M91.66 500.38 v-1.6 M85.5 469.58 h1.6 M122.46 469.58 h-1.6 M97.82 463.42 v1.6 M97.82 500.38 v-1.6 M85.5 475.74 h1.6 M122.46 475.74 h-1.6 M103.98 463.42 v1.6 M103.98 500.38 v-1.6 M85.5 481.9 h1.6 M122.46 481.9 h-1.6 M110.14 463.42 v1.6 M110.14 500.38 v-1.6 M85.5 488.06 h1.6 M122.46 488.06 h-1.6 M116.3 463.42 v1.6 M116.3 500.38 v-1.6 M85.5 494.22 h1.6 M122.46 494.22 h-1.6 M128.62 463.42 v1.6 M128.62 500.38 v-1.6 M122.46 469.58 h1.6 M159.42 469.58 h-1.6 M134.78 463.42 v1.6 M134.78 500.38 v-1.6 M122.46 475.74 h1.6 M159.42 475.74 h-1.6 M140.94 463.42 v1.6 M140.94 500.38 v-1.6 M122.46 481.9 h1.6 M159.42 481.9 h-1.6 M147.1 463.42 v1.6 M147.1 500.38 v-1.6 M122.46 488.06 h1.6 M159.42 488.06 h-1.6 M153.26 463.42 v1.6 M153.26 500.38 v-1.6 M122.46 494.22 h1.6 M159.42 494.22 h-1.6 M165.58 463.42 v1.6 M165.58 500.38 v-1.6 M159.42 469.58 h1.6 M196.38 469.58 h-1.6 M171.74 463.42 v1.6 M171.74 500.38 v-1.6 M159.42 475.74 h1.6 M196.38 475.74 h-1.6 M177.9 463.42 v1.6 M177.9 500.38 v-1.6 M159.42 481.9 h1.6 M196.38 481.9 h-1.6 M184.06 463.42 v1.6 M184.06 500.38 v-1.6 M159.42 488.06 h1.6 M196.38 488.06 h-1.6 M190.22 463.42 v1.6 M190.22 500.38 v-1.6 M159.42 494.22 h1.6 M196.38 494.22 h-1.6 M202.54 463.42 v1.6 M202.54 500.38 v-1.6 M196.38 469.58 h1.6 M233.34 469.58 h-1.6 M208.7 463.42 v1.6 M208.7 500.38 v-1.6 M196.38 475.74 h1.6 M233.34 475.74 h-1.6 M214.86 463.42 v1.6 M214.86 500.38 v-1.6 M196.38 481.9 h1.6 M233.34 481.9 h-1.6 M221.02 463.42 v1.6 M221.02 500.38 v-1.6 M196.38 488.06 h1.6 M233.34 488.06 h-1.6 M227.18 463.42 v1.6 M227.18 500.38 v-1.6 M196.38 494.22 h1.6 M233.34 494.22 h-1.6 M239.5 463.42 v1.6 M239.5 500.38 v-1.6 M233.34 469.58 h1.6 M270.3 469.58 h-1.6 M245.66 463.42 v1.6 M245.66 500.38 v-1.6 M233.34 475.74 h1.6 M270.3 475.74 h-1.6 M251.82 463.42 v1.6 M251.82 500.38 v-1.6 M233.34 481.9 h1.6 M270.3 481.9 h-1.6 M257.98 463.42 v1.6 M257.98 500.38 v-1.6 M233.34 488.06 h1.6 M270.3 488.06 h-1.6 M264.14 463.42 v1.6 M264.14 500.38 v-1.6 M233.34 494.22 h1.6 M270.3 494.22 h-1.6 M91.66 500.38 v1.6 M91.66 537.34 v-1.6 M85.5 506.54 h1.6 M122.46 506.54 h-1.6 M97.82 500.38 v1.6 M97.82 537.34 v-1.6 M85.5 512.7 h1.6 M122.46 512.7 h-1.6 M103.98 500.38 v1.6 M103.98 537.34 v-1.6 M85.5 518.86 h1.6 M122.46 518.86 h-1.6 M110.14 500.38 v1.6 M110.14 537.34 v-1.6 M85.5 525.02 h1.6 M122.46 525.02 h-1.6 M116.3 500.38 v1.6 M116.3 537.34 v-1.6 M85.5 531.18 h1.6 M122.46 531.18 h-1.6 M128.62 500.38 v1.6 M128.62 537.34 v-1.6 M122.46 506.54 h1.6 M159.42 506.54 h-1.6 M134.78 500.38 v1.6 M134.78 537.34 v-1.6 M122.46 512.7 h1.6 M159.42 512.7 h-1.6 M140.94 500.38 v1.6 M140.94 537.34 v-1.6 M122.46 518.86 h1.6 M159.42 518.86 h-1.6 M147.1 500.38 v1.6 M147.1 537.34 v-1.6 M122.46 525.02 h1.6 M159.42 525.02 h-1.6 M153.26 500.38 v1.6 M153.26 537.34 v-1.6 M122.46 531.18 h1.6 M159.42 531.18 h-1.6 M165.58 500.38 v1.6 M165.58 537.34 v-1.6 M159.42 506.54 h1.6 M196.38 506.54 h-1.6 M171.74 500.38 v1.6 M171.74 537.34 v-1.6 M159.42 512.7 h1.6 M196.38 512.7 h-1.6 M177.9 500.38 v1.6 M177.9 537.34 v-1.6 M159.42 518.86 h1.6 M196.38 518.86 h-1.6 M184.06 500.38 v1.6 M184.06 537.34 v-1.6 M159.42 525.02 h1.6 M196.38 525.02 h-1.6 M190.22 500.38 v1.6 M190.22 537.34 v-1.6 M159.42 531.18 h1.6 M196.38 531.18 h-1.6 M202.54 500.38 v1.6 M202.54 537.34 v-1.6 M196.38 506.54 h1.6 M233.34 506.54 h-1.6 M208.7 500.38 v1.6 M208.7 537.34 v-1.6 M196.38 512.7 h1.6 M233.34 512.7 h-1.6 M214.86 500.38 v1.6 M214.86 537.34 v-1.6 M196.38 518.86 h1.6 M233.34 518.86 h-1.6 M221.02 500.38 v1.6 M221.02 537.34 v-1.6 M196.38 525.02 h1.6 M233.34 525.02 h-1.6 M227.18 500.38 v1.6 M227.18 537.34 v-1.6 M196.38 531.18 h1.6 M233.34 531.18 h-1.6 M239.5 500.38 v1.6 M239.5 537.34 v-1.6 M233.34 506.54 h1.6 M270.3 506.54 h-1.6 M245.66 500.38 v1.6 M245.66 537.34 v-1.6 M233.34 512.7 h1.6 M270.3 512.7 h-1.6 M251.82 500.38 v1.6 M251.82 537.34 v-1.6 M233.34 518.86 h1.6 M270.3 518.86 h-1.6 M257.98 500.38 v1.6 M257.98 537.34 v-1.6 M233.34 525.02 h1.6 M270.3 525.02 h-1.6 M264.14 500.38 v1.6 M264.14 537.34 v-1.6 M233.34 531.18 h1.6 M270.3 531.18 h-1.6 M91.66 537.34 v1.6 M91.66 574.3 v-1.6 M85.5 543.5 h1.6 M122.46 543.5 h-1.6 M97.82 537.34 v1.6 M97.82 574.3 v-1.6 M85.5 549.66 h1.6 M122.46 549.66 h-1.6 M103.98 537.34 v1.6 M103.98 574.3 v-1.6 M85.5 555.82 h1.6 M122.46 555.82 h-1.6 M110.14 537.34 v1.6 M110.14 574.3 v-1.6 M85.5 561.98 h1.6 M122.46 561.98 h-1.6 M116.3 537.34 v1.6 M116.3 574.3 v-1.6 M85.5 568.14 h1.6 M122.46 568.14 h-1.6 M128.62 537.34 v1.6 M128.62 574.3 v-1.6 M122.46 543.5 h1.6 M159.42 543.5 h-1.6 M134.78 537.34 v1.6 M134.78 574.3 v-1.6 M122.46 549.66 h1.6 M159.42 549.66 h-1.6 M140.94 537.34 v1.6 M140.94 574.3 v-1.6 M122.46 555.82 h1.6 M159.42 555.82 h-1.6 M147.1 537.34 v1.6 M147.1 574.3 v-1.6 M122.46 561.98 h1.6 M159.42 561.98 h-1.6 M153.26 537.34 v1.6 M153.26 574.3 v-1.6 M122.46 568.14 h1.6 M159.42 568.14 h-1.6 M165.58 537.34 v1.6 M165.58 574.3 v-1.6 M159.42 543.5 h1.6 M196.38 543.5 h-1.6 M171.74 537.34 v1.6 M171.74 574.3 v-1.6 M159.42 549.66 h1.6 M196.38 549.66 h-1.6 M177.9 537.34 v1.6 M177.9 574.3 v-1.6 M159.42 555.82 h1.6 M196.38 555.82 h-1.6 M184.06 537.34 v1.6 M184.06 574.3 v-1.6 M159.42 561.98 h1.6 M196.38 561.98 h-1.6 M190.22 537.34 v1.6 M190.22 574.3 v-1.6 M159.42 568.14 h1.6 M196.38 568.14 h-1.6 M202.54 537.34 v1.6 M202.54 574.3 v-1.6 M196.38 543.5 h1.6 M233.34 543.5 h-1.6 M208.7 537.34 v1.6 M208.7 574.3 v-1.6 M196.38 549.66 h1.6 M233.34 549.66 h-1.6 M214.86 537.34 v1.6 M214.86 574.3 v-1.6 M196.38 555.82 h1.6 M233.34 555.82 h-1.6 M221.02 537.34 v1.6 M221.02 574.3 v-1.6 M196.38 561.98 h1.6 M233.34 561.98 h-1.6 M227.18 537.34 v1.6 M227.18 574.3 v-1.6 M196.38 568.14 h1.6 M233.34 568.14 h-1.6 M239.5 537.34 v1.6 M239.5 574.3 v-1.6 M233.34 543.5 h1.6 M270.3 543.5 h-1.6 M245.66 537.34 v1.6 M245.66 574.3 v-1.6 M233.34 549.66 h1.6 M270.3 549.66 h-1.6 M251.82 537.34 v1.6 M251.82 574.3 v-1.6 M233.34 555.82 h1.6 M270.3 555.82 h-1.6 M257.98 537.34 v1.6 M257.98 574.3 v-1.6 M233.34 561.98 h1.6 M270.3 561.98 h-1.6 M264.14 537.34 v1.6 M264.14 574.3 v-1.6 M233.34 568.14 h1.6 M270.3 568.14 h-1.6" stroke="#111" stroke-width="0.6" fill="none"/>
<path d="M85.5 389.5 v184.8 M85.5 389.5 h184.8 M122.46 389.5 v184.8 M85.5 426.46 h184.8 M159.42 389.5 v184.8 M85.5 463.42 h184.8 M196.38 389.5 v184.8 M85.5 500.38 h184.8 M233.34 389.5 v184.8 M85.5 537.34 h184.8 M270.3 389.5 v184.8 M85.5 574.3 h184.8" stroke="#2e2e2e" stroke-width="0.95" fill="none" stroke-linecap="square"/>
<path d="M92.18 411.58 L92.67 411.56 L93.16 411.54 L93.66 411.52 L94.15 411.50 L94.64 411.48 L95.13 411.45 L95.62 411.43 L96.11 411.41 L96.61 411.38 L97.10 411.35 L97.59 411.32 L98.08 411.28 L98.57 411.24 L99.06 411.20 L99.56 411.15 L100.05 411.10 L100.54 411.04 L101.03 410.98 L101.52 410.91 L102.01 410.83 L102.50 410.74 L103.00 410.64 L103.49 410.50 L103.98 410.21 L104.47 409.44 L104.96 407.86 L105.45 406.23 L105.95 405.43 L106.44 405.13 L106.93 405.00 L107.42 404.92 L107.91 404.86 L108.41 404.81 L108.90 404.76 L109.39 404.72 L109.88 404.68 L110.37 404.64 L110.86 404.61 L111.36 404.58 L111.85 404.55 L112.34 404.53 L112.83 404.51 L113.32 404.48 L113.81 404.46 L114.31 404.44 L114.80 404.42 L115.29 404.40 L115.78 404.38 L115.78 404.38 L115.29 404.40 L114.80 404.42 L114.31 404.44 L113.81 404.46 L113.32 404.48 L112.83 404.51 L112.34 404.53 L111.85 404.55 L111.36 404.58 L110.86 404.61 L110.37 404.64 L109.88 404.68 L109.39 404.72 L108.90 404.76 L108.41 404.81 L107.91 404.86 L107.42 404.92 L106.93 404.98 L106.44 405.05 L105.95 405.13 L105.45 405.22 L104.96 405.32 L104.47 405.46 L103.98 405.75 L103.49 406.52 L103.00 408.10 L102.50 409.73 L102.01 410.53 L101.52 410.83 L101.03 410.96 L100.54 411.04 L100.05 411.10 L99.56 411.15 L99.06 411.20 L98.57 411.24 L98.08 411.28 L97.59 411.32 L97.10 411.35 L96.61 411.38 L96.11 411.41 L95.62 411.43 L95.13 411.45 L94.64 411.48 L94.15 411.50 L93.66 411.52 L93.16 411.54 L92.67 411.56 L92.18 411.58 L92.18 411.58 M129.44 416.78 L129.92 416.73 L130.40 416.68 L130.88 416.63 L131.36 416.57 L131.84 416.52 L132.31 416.46 L132.79 416.39 L133.27 416.33 L133.75 416.26 L134.23 416.18 L134.71 416.10 L135.19 416.01 L135.67 415.91 L136.15 415.80 L136.63 415.68 L137.11 415.54 L137.59 415.39 L138.06 415.23 L138.54 415.05 L139.02 414.85 L139.50 414.64 L139.98 414.38 L140.46 414.03 L140.94 413.41 L141.42 412.05 L141.90 409.28 L142.38 405.58 L142.86 402.82 L143.34 401.48 L143.81 400.91 L144.29 400.62 L144.77 400.43 L145.25 400.29 L145.73 400.16 L146.21 400.05 L146.69 399.95 L147.17 399.86 L147.65 399.78 L148.13 399.70 L148.61 399.63 L149.09 399.57 L149.56 399.50 L150.04 399.44 L150.52 399.39 L151.00 399.33 L151.48 399.28 L151.96 399.23 L152.44 399.18 L152.44 399.18 L151.96 399.23 L151.48 399.28 L151.00 399.33 L150.52 399.39 L150.04 399.44 L149.56 399.50 L149.09 399.57 L148.61 399.63 L148.13 399.70 L147.65 399.78 L147.17 399.86 L146.69 399.95 L146.21 400.05 L145.73 400.16 L145.25 400.28 L144.77 400.42 L144.29 400.57 L143.81 400.73 L143.34 400.91 L142.86 401.11 L142.38 401.32 L141.90 401.58 L141.42 401.93 L140.94 402.55 L140.46 403.91 L139.98 406.68 L139.50 410.38 L139.02 413.14 L138.54 414.48 L138.06 415.05 L137.59 415.34 L137.11 415.53 L136.63 415.67 L136.15 415.80 L135.67 415.91 L135.19 416.01 L134.71 416.10 L134.23 416.18 L133.75 416.26 L133.27 416.33 L132.79 416.39 L132.31 416.46 L131.84 416.52 L131.36 416.57 L130.88 416.63 L130.40 416.68 L129.92 416.73 L129.44 416.78 L129.44 416.78 M162.30 417.28 L162.95 417.24 L163.60 417.19 L164.25 417.15 L164.90 417.10 L165.55 417.06 L166.20 417.01 L166.85 416.96 L167.50 416.91 L168.15 416.85 L168.80 416.80 L169.45 416.74 L170.10 416.67 L170.75 416.59 L171.40 416.51 L172.05 416.41 L172.70 416.30 L173.35 416.16 L174.00 416.01 L174.65 415.83 L175.30 415.62 L175.95 415.39 L176.60 415.13 L177.25 414.83 L177.90 414.43 L178.55 413.67 L179.20 411.72 L179.85 407.53 L180.50 403.09 L181.15 400.90 L181.80 400.14 L182.45 399.84 L183.10 399.68 L183.75 399.55 L184.40 399.45 L185.05 399.37 L185.70 399.29 L186.35 399.23 L187.00 399.16 L187.65 399.11 L188.30 399.05 L188.95 399.00 L189.60 398.95 L190.25 398.90 L190.90 398.86 L191.55 398.81 L192.20 398.77 L192.85 398.72 L193.50 398.68 L193.50 398.68 L192.85 398.72 L192.20 398.77 L191.55 398.81 L190.90 398.86 L190.25 398.90 L189.60 398.95 L188.95 399.00 L188.30 399.05 L187.65 399.11 L187.00 399.16 L186.35 399.22 L185.70 399.29 L185.05 399.37 L184.40 399.45 L183.75 399.55 L183.10 399.66 L182.45 399.80 L181.80 399.95 L181.15 400.13 L180.50 400.34 L179.85 400.57 L179.20 400.83 L178.55 401.13 L177.90 401.53 L177.25 402.29 L176.60 404.24 L175.95 408.43 L175.30 412.87 L174.65 415.06 L174.00 415.82 L173.35 416.12 L172.70 416.28 L172.05 416.41 L171.40 416.51 L170.75 416.59 L170.10 416.67 L169.45 416.73 L168.80 416.80 L168.15 416.85 L167.50 416.91 L166.85 416.96 L166.20 417.01 L165.55 417.06 L164.90 417.10 L164.25 417.15 L163.60 417.19 L162.95 417.24 L162.30 417.28 L162.30 417.28 M203.06 416.73 L203.55 416.69 L204.04 416.64 L204.53 416.60 L205.03 416.55 L205.52 416.50 L206.01 416.45 L206.50 416.40 L206.99 416.34 L207.48 416.28 L207.98 416.22 L208.47 416.14 L208.96 416.07 L209.45 415.98 L209.94 415.89 L210.44 415.78 L210.93 415.66 L211.42 415.53 L211.91 415.39 L212.40 415.23 L212.89 415.06 L213.38 414.87 L213.88 414.67 L214.37 414.43 L214.86 414.10 L215.35 413.49 L215.84 412.07 L216.33 409.11 L216.83 405.17 L217.32 402.37 L217.81 401.10 L218.30 400.59 L218.79 400.34 L219.28 400.19 L219.78 400.08 L220.27 399.98 L220.76 399.89 L221.25 399.82 L221.74 399.74 L222.23 399.68 L222.73 399.62 L223.22 399.56 L223.71 399.51 L224.20 399.46 L224.69 399.41 L225.19 399.36 L225.68 399.32 L226.17 399.27 L226.66 399.23 L226.66 399.23 L226.17 399.27 L225.68 399.32 L225.19 399.36 L224.69 399.41 L224.20 399.46 L223.71 399.51 L223.22 399.56 L222.73 399.62 L222.23 399.68 L221.74 399.74 L221.25 399.82 L220.76 399.89 L220.27 399.98 L219.78 400.07 L219.28 400.18 L218.79 400.30 L218.30 400.43 L217.81 400.57 L217.32 400.73 L216.83 400.90 L216.33 401.09 L215.84 401.29 L215.35 401.53 L214.86 401.86 L214.37 402.47 L213.88 403.89 L213.38 406.85 L212.89 410.79 L212.40 413.59 L211.91 414.86 L211.42 415.37 L210.93 415.62 L210.44 415.77 L209.94 415.88 L209.45 415.98 L208.96 416.07 L208.47 416.14 L207.98 416.22 L207.48 416.28 L206.99 416.34 L206.50 416.40 L206.01 416.45 L205.52 416.50 L205.03 416.55 L204.53 416.60 L204.04 416.64 L203.55 416.69 L203.06 416.73 L203.06 416.73 M241.32 416.58 L241.76 416.53 L242.19 416.48 L242.63 416.43 L243.07 416.38 L243.51 416.32 L243.94 416.26 L244.38 416.20 L244.82 416.13 L245.26 416.06 L245.69 415.99 L246.13 415.91 L246.57 415.82 L247.01 415.72 L247.44 415.61 L247.88 415.50 L248.32 415.37 L248.76 415.23 L249.19 415.08 L249.63 414.92 L250.07 414.74 L250.51 414.56 L250.94 414.36 L251.38 414.12 L251.82 413.81 L252.26 413.29 L252.69 412.23 L253.13 410.09 L253.57 406.84 L254.01 403.78 L254.44 401.96 L254.88 401.11 L255.32 400.72 L255.76 400.51 L256.19 400.36 L256.63 400.25 L257.07 400.15 L257.51 400.06 L257.94 399.97 L258.38 399.90 L258.82 399.83 L259.26 399.76 L259.69 399.70 L260.13 399.64 L260.57 399.58 L261.01 399.53 L261.44 399.48 L261.88 399.43 L262.32 399.38 L262.32 399.38 L261.88 399.43 L261.44 399.48 L261.01 399.53 L260.57 399.58 L260.13 399.64 L259.69 399.70 L259.26 399.76 L258.82 399.83 L258.38 399.90 L257.94 399.97 L257.51 400.05 L257.07 400.14 L256.63 400.24 L256.19 400.35 L255.76 400.46 L255.32 400.59 L254.88 400.73 L254.44 400.88 L254.01 401.04 L253.57 401.22 L253.13 401.40 L252.69 401.60 L252.26 401.84 L251.82 402.15 L251.38 402.67 L250.94 403.73 L250.51 405.87 L250.07 409.12 L249.63 412.18 L249.19 414.00 L248.76 414.85 L248.32 415.24 L247.88 415.45 L247.44 415.60 L247.01 415.71 L246.57 415.81 L246.13 415.90 L245.69 415.99 L245.26 416.06 L244.82 416.13 L244.38 416.20 L243.94 416.26 L243.51 416.32 L243.07 416.38 L242.63 416.43 L242.19 416.48 L241.76 416.53 L241.32 416.58 L241.32 416.58 M93.08 453.74 L93.53 453.70 L93.99 453.65 L94.44 453.60 L94.90 453.56 L95.35 453.51 L95.81 453.45 L96.26 453.40 L96.71 453.34 L97.17 453.28 L97.62 453.21 L98.08 453.13 L98.53 453.05 L98.98 452.97 L99.44 452.87 L99.89 452.76 L100.35 452.65 L100.80 452.52 L101.25 452.38 L101.71 452.22 L102.16 452.05 L102.62 451.86 L103.07 451.61 L103.53 451.20 L103.98 450.37 L104.43 448.55 L104.89 445.30 L105.34 441.67 L105.80 439.28 L106.25 438.16 L106.70 437.67 L107.16 437.42 L107.61 437.25 L108.07 437.12 L108.52 437.01 L108.98 436.92 L109.43 436.83 L109.88 436.75 L110.34 436.67 L110.79 436.60 L111.25 436.54 L111.70 436.48 L112.16 436.43 L112.61 436.37 L113.06 436.32 L113.52 436.28 L113.97 436.23 L114.43 436.18 L114.88 436.14 L114.88 436.14 L114.43 436.18 L113.97 436.23 L113.52 436.28 L113.06 436.32 L112.61 436.37 L112.16 436.43 L111.70 436.48 L111.25 436.54 L110.79 436.60 L110.34 436.67 L109.88 436.75 L109.43 436.83 L108.98 436.91 L108.52 437.01 L108.07 437.12 L107.61 437.23 L107.16 437.36 L106.70 437.50 L106.25 437.66 L105.80 437.83 L105.34 438.02 L104.89 438.27 L104.43 438.68 L103.98 439.51 L103.53 441.33 L103.07 444.58 L102.62 448.21 L102.16 450.60 L101.71 451.72 L101.25 452.21 L100.80 452.46 L100.35 452.63 L99.89 452.76 L99.44 452.87 L98.98 452.96 L98.53 453.05 L98.08 453.13 L97.62 453.21 L97.17 453.28 L96.71 453.34 L96.26 453.40 L95.81 453.45 L95.35 453.51 L94.90 453.56 L94.44 453.60 L93.99 453.65 L93.53 453.70 L93.08 453.74 L93.08 453.74 M128.74 453.84 L129.25 453.80 L129.76 453.75 L130.27 453.71 L130.77 453.66 L131.28 453.61 L131.79 453.56 L132.30 453.51 L132.81 453.45 L133.31 453.39 L133.82 453.33 L134.33 453.26 L134.84 453.18 L135.35 453.09 L135.86 453.00 L136.37 452.89 L136.87 452.77 L137.38 452.64 L137.89 452.50 L138.40 452.33 L138.91 452.15 L139.42 451.95 L139.92 451.71 L140.43 451.38 L140.94 450.73 L141.45 449.20 L141.96 445.96 L142.47 441.85 L142.97 439.14 L143.48 437.98 L143.99 437.51 L144.50 437.27 L145.01 437.12 L145.52 436.99 L146.02 436.88 L146.53 436.79 L147.04 436.70 L147.55 436.62 L148.06 436.55 L148.56 436.49 L149.07 436.43 L149.58 436.37 L150.09 436.32 L150.60 436.27 L151.11 436.22 L151.62 436.17 L152.12 436.13 L152.63 436.08 L153.14 436.04 L153.14 436.04 L152.63 436.08 L152.12 436.13 L151.62 436.17 L151.11 436.22 L150.60 436.27 L150.09 436.32 L149.58 436.37 L149.07 436.43 L148.56 436.49 L148.06 436.55 L147.55 436.62 L147.04 436.70 L146.53 436.79 L146.02 436.88 L145.52 436.99 L145.01 437.11 L144.50 437.24 L143.99 437.38 L143.48 437.55 L142.97 437.73 L142.47 437.93 L141.96 438.17 L141.45 438.50 L140.94 439.15 L140.43 440.68 L139.92 443.92 L139.42 448.03 L138.91 450.74 L138.40 451.90 L137.89 452.37 L137.38 452.61 L136.87 452.76 L136.37 452.89 L135.86 453.00 L135.35 453.09 L134.84 453.18 L134.33 453.26 L133.82 453.33 L133.31 453.39 L132.81 453.45 L132.30 453.51 L131.79 453.56 L131.28 453.61 L130.77 453.66 L130.27 453.71 L129.76 453.75 L129.25 453.80 L128.74 453.84 L128.74 453.84 M166.30 453.54 L166.78 453.50 L167.27 453.45 L167.75 453.41 L168.23 453.36 L168.72 453.31 L169.20 453.26 L169.68 453.21 L170.17 453.15 L170.65 453.09 L171.13 453.03 L171.62 452.96 L172.10 452.88 L172.58 452.80 L173.07 452.70 L173.55 452.60 L174.03 452.49 L174.52 452.36 L175.00 452.22 L175.48 452.06 L175.97 451.90 L176.45 451.71 L176.93 451.52 L177.42 451.29 L177.90 450.97 L178.38 450.38 L178.87 449.04 L179.35 446.24 L179.83 442.42 L180.32 439.59 L180.80 438.25 L181.28 437.70 L181.77 437.45 L182.25 437.30 L182.73 437.18 L183.22 437.08 L183.70 437.00 L184.18 436.92 L184.67 436.85 L185.15 436.79 L185.63 436.73 L186.12 436.67 L186.60 436.62 L187.08 436.57 L187.57 436.52 L188.05 436.47 L188.53 436.43 L189.02 436.38 L189.50 436.34 L189.50 436.34 L189.02 436.38 L188.53 436.43 L188.05 436.47 L187.57 436.52 L187.08 436.57 L186.60 436.62 L186.12 436.67 L185.63 436.73 L185.15 436.79 L184.67 436.85 L184.18 436.92 L183.70 437.00 L183.22 437.08 L182.73 437.18 L182.25 437.28 L181.77 437.39 L181.28 437.52 L180.80 437.66 L180.32 437.82 L179.83 437.98 L179.35 438.17 L178.87 438.36 L178.38 438.59 L177.90 438.91 L177.42 439.50 L176.93 440.84 L176.45 443.64 L175.97 447.46 L175.48 450.29 L175.00 451.63 L174.52 452.18 L174.03 452.43 L173.55 452.58 L173.07 452.70 L172.58 452.80 L172.10 452.88 L171.62 452.96 L171.13 453.03 L170.65 453.09 L170.17 453.15 L169.68 453.21 L169.20 453.26 L168.72 453.31 L168.23 453.36 L167.75 453.41 L167.27 453.45 L166.78 453.50 L166.30 453.54 L166.30 453.54 M204.66 453.34 L205.09 453.30 L205.51 453.25 L205.94 453.20 L206.36 453.16 L206.78 453.11 L207.21 453.05 L207.63 453.00 L208.06 452.94 L208.48 452.87 L208.91 452.80 L209.34 452.73 L209.76 452.65 L210.19 452.56 L210.61 452.47 L211.03 452.36 L211.46 452.25 L211.88 452.13 L212.31 452.00 L212.73 451.85 L213.16 451.70 L213.58 451.54 L214.01 451.35 L214.44 451.14 L214.86 450.82 L215.28 450.25 L215.71 449.08 L216.13 446.78 L216.56 443.52 L216.98 440.61 L217.41 438.92 L217.83 438.13 L218.26 437.76 L218.69 437.56 L219.11 437.43 L219.53 437.32 L219.96 437.23 L220.38 437.15 L220.81 437.08 L221.23 437.01 L221.66 436.94 L222.09 436.88 L222.51 436.83 L222.94 436.77 L223.36 436.72 L223.78 436.68 L224.21 436.63 L224.63 436.58 L225.06 436.54 L225.06 436.54 L224.63 436.58 L224.21 436.63 L223.78 436.68 L223.36 436.72 L222.94 436.77 L222.51 436.83 L222.09 436.88 L221.66 436.94 L221.23 437.01 L220.81 437.08 L220.38 437.15 L219.96 437.23 L219.53 437.32 L219.11 437.41 L218.69 437.52 L218.26 437.63 L217.83 437.75 L217.41 437.88 L216.98 438.03 L216.56 438.18 L216.13 438.34 L215.71 438.53 L215.28 438.74 L214.86 439.06 L214.44 439.63 L214.01 440.80 L213.58 443.10 L213.16 446.36 L212.73 449.27 L212.31 450.96 L211.88 451.75 L211.46 452.12 L211.03 452.32 L210.61 452.45 L210.19 452.56 L209.76 452.65 L209.34 452.73 L208.91 452.80 L208.48 452.87 L208.06 452.94 L207.63 453.00 L207.21 453.05 L206.78 453.11 L206.36 453.16 L205.94 453.20 L205.51 453.25 L205.09 453.30 L204.66 453.34 L204.66 453.34 M241.04 454.56 L249.84 453.96 L253.64 450.76 L254.34 440.66 L256.24 438.16 L263.14 435.36 L254.94 437.16 L251.74 439.46 L250.84 449.56 L248.64 451.46 L241.04 454.56 M91.98 490.40 L92.48 490.36 L92.98 490.31 L93.48 490.27 L93.98 490.22 L94.48 490.17 L94.98 490.12 L95.48 490.06 L95.98 490.01 L96.48 489.95 L96.98 489.88 L97.48 489.81 L97.98 489.73 L98.48 489.64 L98.98 489.55 L99.48 489.44 L99.98 489.32 L100.48 489.19 L100.98 489.04 L101.48 488.88 L101.98 488.71 L102.48 488.51 L102.98 488.29 L103.48 488.01 L103.98 487.55 L104.48 486.54 L104.98 484.25 L105.48 480.53 L105.98 477.28 L106.48 475.64 L106.98 474.97 L107.48 474.67 L107.98 474.49 L108.48 474.36 L108.98 474.25 L109.48 474.16 L109.98 474.07 L110.48 473.99 L110.98 473.92 L111.48 473.85 L111.98 473.79 L112.48 473.74 L112.98 473.68 L113.48 473.63 L113.98 473.58 L114.48 473.53 L114.98 473.49 L115.48 473.44 L115.98 473.40 L115.98 473.40 L115.48 473.44 L114.98 473.49 L114.48 473.53 L113.98 473.58 L113.48 473.63 L112.98 473.68 L112.48 473.74 L111.98 473.79 L111.48 473.85 L110.98 473.92 L110.48 473.99 L109.98 474.07 L109.48 474.16 L108.98 474.25 L108.48 474.36 L107.98 474.48 L107.48 474.61 L106.98 474.76 L106.48 474.92 L105.98 475.09 L105.48 475.29 L104.98 475.51 L104.48 475.79 L103.98 476.25 L103.48 477.26 L102.98 479.55 L102.48 483.27 L101.98 486.52 L101.48 488.16 L100.98 488.83 L100.48 489.13 L99.98 489.31 L99.48 489.44 L98.98 489.55 L98.48 489.64 L97.98 489.73 L97.48 489.81 L96.98 489.88 L96.48 489.95 L95.98 490.01 L95.48 490.06 L94.98 490.12 L94.48 490.17 L93.98 490.22 L93.48 490.27 L92.98 490.31 L92.48 490.36 L91.98 490.40 L91.98 490.40 M130.44 490.40 L130.88 490.35 L131.31 490.30 L131.75 490.26 L132.19 490.20 L132.63 490.15 L133.06 490.09 L133.50 490.03 L133.94 489.97 L134.38 489.90 L134.81 489.83 L135.25 489.75 L135.69 489.67 L136.13 489.57 L136.56 489.47 L137.00 489.36 L137.44 489.24 L137.88 489.10 L138.31 488.96 L138.75 488.80 L139.19 488.63 L139.63 488.45 L140.06 488.24 L140.50 487.97 L140.94 487.55 L141.38 486.72 L141.81 484.98 L142.25 481.99 L142.69 478.69 L143.13 476.47 L143.56 475.38 L144.00 474.88 L144.44 474.63 L144.88 474.46 L145.31 474.34 L145.75 474.23 L146.19 474.14 L146.63 474.05 L147.06 473.97 L147.50 473.90 L147.94 473.83 L148.38 473.77 L148.81 473.71 L149.25 473.65 L149.69 473.60 L150.13 473.54 L150.56 473.50 L151.00 473.45 L151.44 473.40 L151.44 473.40 L151.00 473.45 L150.56 473.50 L150.13 473.54 L149.69 473.60 L149.25 473.65 L148.81 473.71 L148.38 473.77 L147.94 473.83 L147.50 473.90 L147.06 473.97 L146.63 474.05 L146.19 474.13 L145.75 474.23 L145.31 474.33 L144.88 474.44 L144.44 474.56 L144.00 474.70 L143.56 474.84 L143.13 475.00 L142.69 475.17 L142.25 475.35 L141.81 475.56 L141.38 475.83 L140.94 476.25 L140.50 477.08 L140.06 478.82 L139.63 481.81 L139.19 485.11 L138.75 487.33 L138.31 488.42 L137.88 488.92 L137.44 489.17 L137.00 489.34 L136.56 489.46 L136.13 489.57 L135.69 489.66 L135.25 489.75 L134.81 489.83 L134.38 489.90 L133.94 489.97 L133.50 490.03 L133.06 490.09 L132.63 490.15 L132.19 490.20 L131.75 490.26 L131.31 490.30 L130.88 490.35 L130.44 490.40 L130.44 490.40 M167.20 490.40 L167.65 490.35 L168.09 490.31 L168.54 490.26 L168.98 490.21 L169.43 490.15 L169.88 490.10 L170.32 490.04 L170.77 489.98 L171.21 489.91 L171.66 489.84 L172.10 489.76 L172.55 489.68 L173.00 489.58 L173.44 489.48 L173.89 489.37 L174.33 489.25 L174.78 489.12 L175.23 488.97 L175.67 488.81 L176.12 488.64 L176.56 488.46 L177.01 488.26 L177.45 488.02 L177.90 487.68 L178.35 487.07 L178.79 485.77 L179.24 483.23 L179.68 479.80 L180.13 477.05 L180.58 475.59 L181.02 474.95 L181.47 474.64 L181.91 474.46 L182.36 474.33 L182.80 474.22 L183.25 474.13 L183.70 474.04 L184.14 473.96 L184.59 473.89 L185.03 473.82 L185.48 473.76 L185.93 473.70 L186.37 473.65 L186.82 473.59 L187.26 473.54 L187.71 473.49 L188.15 473.45 L188.60 473.40 L188.60 473.40 L188.15 473.45 L187.71 473.49 L187.26 473.54 L186.82 473.59 L186.37 473.65 L185.93 473.70 L185.48 473.76 L185.03 473.82 L184.59 473.89 L184.14 473.96 L183.70 474.04 L183.25 474.12 L182.80 474.22 L182.36 474.32 L181.91 474.43 L181.47 474.55 L181.02 474.68 L180.58 474.83 L180.13 474.99 L179.68 475.16 L179.24 475.34 L178.79 475.54 L178.35 475.78 L177.90 476.12 L177.45 476.73 L177.01 478.03 L176.56 480.57 L176.12 484.00 L175.67 486.75 L175.23 488.21 L174.78 488.85 L174.33 489.16 L173.89 489.34 L173.44 489.47 L173.00 489.58 L172.55 489.67 L172.10 489.76 L171.66 489.84 L171.21 489.91 L170.77 489.98 L170.32 490.04 L169.88 490.10 L169.43 490.15 L168.98 490.21 L168.54 490.26 L168.09 490.31 L167.65 490.35 L167.20 490.40 L167.20 490.40 M215.08 463.82 L214.38 472.82 L204.68 497.42 L206.48 499.62 M225.18 463.82 L216.68 484.82 L216.88 491.12 L215.38 493.62 M250.54 463.82 L248.84 481.62 L247.54 499.92 M257.04 463.82 L255.54 481.62 L252.34 499.92 M91.68 527.36 L92.19 527.32 L92.70 527.27 L93.22 527.23 L93.73 527.18 L94.24 527.13 L94.75 527.08 L95.27 527.03 L95.78 526.97 L96.29 526.91 L96.81 526.85 L97.32 526.78 L97.83 526.70 L98.34 526.62 L98.86 526.52 L99.37 526.42 L99.88 526.30 L100.39 526.17 L100.91 526.02 L101.42 525.86 L101.93 525.68 L102.44 525.49 L102.95 525.27 L103.47 525.02 L103.98 524.64 L104.49 523.90 L105.00 522.13 L105.52 518.70 L106.03 514.98 L106.54 512.85 L107.06 511.99 L107.57 511.64 L108.08 511.44 L108.59 511.31 L109.11 511.20 L109.62 511.10 L110.13 511.02 L110.64 510.94 L111.16 510.87 L111.67 510.81 L112.18 510.75 L112.69 510.69 L113.20 510.64 L113.72 510.59 L114.23 510.54 L114.74 510.49 L115.25 510.45 L115.77 510.40 L116.28 510.36 L116.28 510.36 L115.77 510.40 L115.25 510.45 L114.74 510.49 L114.23 510.54 L113.72 510.59 L113.20 510.64 L112.69 510.69 L112.18 510.75 L111.67 510.81 L111.16 510.87 L110.64 510.94 L110.13 511.02 L109.62 511.10 L109.11 511.20 L108.59 511.30 L108.08 511.42 L107.57 511.55 L107.06 511.70 L106.54 511.86 L106.03 512.04 L105.52 512.23 L105.00 512.45 L104.49 512.70 L103.98 513.08 L103.47 513.82 L102.95 515.59 L102.44 519.02 L101.93 522.74 L101.42 524.87 L100.91 525.73 L100.39 526.08 L99.88 526.28 L99.37 526.41 L98.86 526.52 L98.34 526.62 L97.83 526.70 L97.32 526.78 L96.81 526.85 L96.29 526.91 L95.78 526.97 L95.27 527.03 L94.75 527.08 L94.24 527.13 L93.73 527.18 L93.22 527.23 L92.70 527.27 L92.19 527.32 L91.68 527.36 L91.68 527.36 M133.24 527.26 L133.56 527.20 L133.88 527.14 L134.20 527.07 L134.52 527.00 L134.84 526.93 L135.17 526.86 L135.49 526.78 L135.81 526.70 L136.13 526.61 L136.45 526.52 L136.77 526.43 L137.09 526.32 L137.41 526.22 L137.73 526.10 L138.05 525.98 L138.37 525.85 L138.69 525.72 L139.02 525.58 L139.34 525.44 L139.66 525.28 L139.98 525.12 L140.30 524.93 L140.62 524.69 L140.94 524.34 L141.26 523.74 L141.58 522.61 L141.90 520.64 L142.22 517.95 L142.54 515.37 L142.87 513.61 L143.19 512.64 L143.51 512.13 L143.83 511.85 L144.15 511.66 L144.47 511.52 L144.79 511.40 L145.11 511.30 L145.43 511.20 L145.75 511.11 L146.07 511.02 L146.39 510.94 L146.72 510.86 L147.04 510.79 L147.36 510.72 L147.68 510.65 L148.00 510.58 L148.32 510.52 L148.64 510.46 L148.64 510.46 L148.32 510.52 L148.00 510.58 L147.68 510.65 L147.36 510.72 L147.04 510.79 L146.72 510.86 L146.39 510.94 L146.07 511.02 L145.75 511.11 L145.43 511.20 L145.11 511.29 L144.79 511.40 L144.47 511.50 L144.15 511.62 L143.83 511.74 L143.51 511.87 L143.19 512.00 L142.87 512.14 L142.54 512.28 L142.22 512.44 L141.90 512.60 L141.58 512.79 L141.26 513.03 L140.94 513.38 L140.62 513.98 L140.30 515.11 L139.98 517.08 L139.66 519.77 L139.34 522.35 L139.02 524.11 L138.69 525.08 L138.37 525.59 L138.05 525.87 L137.73 526.06 L137.41 526.20 L137.09 526.32 L136.77 526.42 L136.45 526.52 L136.13 526.61 L135.81 526.70 L135.49 526.78 L135.17 526.86 L134.84 526.93 L134.52 527.00 L134.20 527.07 L133.88 527.14 L133.56 527.20 L133.24 527.26 L133.24 527.26 M163.30 527.56 L163.91 527.53 L164.52 527.50 L165.13 527.46 L165.73 527.43 L166.34 527.40 L166.95 527.36 L167.56 527.33 L168.17 527.29 L168.78 527.25 L169.38 527.21 L169.99 527.16 L170.60 527.11 L171.21 527.06 L171.82 526.99 L172.43 526.92 L173.03 526.84 L173.64 526.74 L174.25 526.63 L174.86 526.50 L175.47 526.36 L176.08 526.20 L176.68 526.03 L177.29 525.85 L177.90 525.65 L178.51 525.43 L179.12 525.12 L179.73 524.50 L180.33 522.86 L180.94 519.20 L181.55 514.75 L182.16 512.16 L182.77 511.21 L183.38 510.89 L183.98 510.75 L184.59 510.67 L185.20 510.61 L185.81 510.56 L186.42 510.51 L187.03 510.47 L187.63 510.43 L188.24 510.39 L188.85 510.36 L189.46 510.32 L190.07 510.29 L190.68 510.26 L191.28 510.22 L191.89 510.19 L192.50 510.16 L192.50 510.16 L191.89 510.19 L191.28 510.22 L190.68 510.26 L190.07 510.29 L189.46 510.32 L188.85 510.36 L188.24 510.39 L187.63 510.43 L187.03 510.47 L186.42 510.51 L185.81 510.56 L185.20 510.61 L184.59 510.66 L183.98 510.73 L183.38 510.80 L182.77 510.88 L182.16 510.98 L181.55 511.09 L180.94 511.22 L180.33 511.36 L179.73 511.52 L179.12 511.69 L178.51 511.87 L177.90 512.07 L177.29 512.29 L176.68 512.60 L176.08 513.22 L175.47 514.86 L174.86 518.52 L174.25 522.97 L173.64 525.56 L173.03 526.51 L172.43 526.83 L171.82 526.97 L171.21 527.05 L170.60 527.11 L169.99 527.16 L169.38 527.21 L168.78 527.25 L168.17 527.29 L167.56 527.33 L166.95 527.36 L166.34 527.40 L165.73 527.43 L165.13 527.46 L164.52 527.50 L163.91 527.53 L163.30 527.56 L163.30 527.56 M213.78 500.68 L211.28 519.58 L209.98 536.98 M220.08 500.68 L217.58 519.58 L216.68 530.38 L215.38 531.98 M250.74 500.68 L249.84 513.28 L249.44 528.48 L250.74 536.98 M253.04 500.68 L254.94 506.98 L254.94 513.28 L253.64 527.18 L252.34 536.98 M92.78 563.62 L93.25 563.58 L93.71 563.54 L94.18 563.49 L94.65 563.45 L95.11 563.40 L95.58 563.35 L96.05 563.30 L96.51 563.24 L96.98 563.18 L97.45 563.12 L97.91 563.05 L98.38 562.97 L98.85 562.89 L99.31 562.80 L99.78 562.70 L100.25 562.59 L100.71 562.47 L101.18 562.33 L101.65 562.19 L102.11 562.03 L102.58 561.86 L103.05 561.67 L103.51 561.47 L103.98 561.20 L104.45 560.76 L104.91 559.82 L105.38 557.82 L105.85 554.65 L106.31 551.75 L106.78 550.14 L107.25 549.45 L107.71 549.14 L108.18 548.97 L108.65 548.85 L109.11 548.75 L109.58 548.67 L110.05 548.59 L110.51 548.52 L110.98 548.46 L111.45 548.40 L111.91 548.34 L112.38 548.29 L112.85 548.24 L113.31 548.19 L113.78 548.15 L114.25 548.10 L114.71 548.06 L115.18 548.02 L115.18 548.02 L114.71 548.06 L114.25 548.10 L113.78 548.15 L113.31 548.19 L112.85 548.24 L112.38 548.29 L111.91 548.34 L111.45 548.40 L110.98 548.46 L110.51 548.52 L110.05 548.59 L109.58 548.67 L109.11 548.75 L108.65 548.84 L108.18 548.94 L107.71 549.05 L107.25 549.17 L106.78 549.31 L106.31 549.45 L105.85 549.61 L105.38 549.78 L104.91 549.97 L104.45 550.17 L103.98 550.44 L103.51 550.88 L103.05 551.82 L102.58 553.82 L102.11 556.99 L101.65 559.89 L101.18 561.50 L100.71 562.19 L100.25 562.50 L99.78 562.67 L99.31 562.79 L98.85 562.89 L98.38 562.97 L97.91 563.05 L97.45 563.12 L96.98 563.18 L96.51 563.24 L96.05 563.30 L95.58 563.35 L95.11 563.40 L94.65 563.45 L94.18 563.49 L93.71 563.54 L93.25 563.58 L92.78 563.62 L92.78 563.62 M140.96 565.64 L136.46 567.24 L129.56 567.84 L126.36 566.24 L132.66 562.14 L137.16 557.14 L139.06 550.84 L140.26 547.04 L143.46 545.14 L150.36 544.14 L155.86 544.14 L150.36 547.64 L145.36 552.04 L143.46 554.64 L143.16 558.34 L141.76 559.04 M174.42 537.74 L167.22 573.94 M186.72 537.74 L181.62 563.44 L179.52 568.54 L178.22 569.14 M213.78 537.74 L212.48 550.84 L211.58 568.54 L212.78 573.94 M217.58 537.74 L218.48 543.24 L217.58 555.84 L215.08 573.94 M251.34 537.74 L250.74 557.14 L250.74 573.94 M253.24 537.74 L253.94 550.84 L252.64 573.94" stroke="#ff1010" stroke-width="0.7" fill="none" stroke-linejoin="round" stroke-linecap="round"/>
<text x="352" y="347.9" font-size="15" text-anchor="start" font-weight="bold" font-style="normal" fill="#000">d</text>
<defs><linearGradient id="gd" x1="0" x2="1" y1="0" y2="0"><stop offset="0" stop-color="#ffffff"/><stop offset="1" stop-color="#06a54e"/></linearGradient></defs>
<rect x="437.2" y="355.9" width="148.9" height="14.9" fill="url(#gd)"/>
<text x="439" y="351.5" font-size="10.4" text-anchor="middle" font-weight="normal" font-style="normal" fill="#111">0</text>
<text x="585.4" y="351.5" font-size="10.4" text-anchor="middle" font-weight="normal" font-style="normal" fill="#111">6.0</text>
<text x="484.3" y="337" font-size="10" text-anchor="start" font-weight="normal" font-style="normal" fill="#111">−<tspan font-style="italic">e</tspan><tspan font-size="7.5" dy="3">31,<tspan font-style="italic">f</tspan></tspan><tspan dy="-3"> (C/m</tspan><tspan font-size="6" dy="-3.4">2</tspan><tspan dy="3.4">)</tspan></text>
<path d="M468.9 381 L558.85 382.6 A111.4 111.4 0 1 1 468.9 381 Z" fill="#d9d9d9" stroke="#111" stroke-width="1.2" stroke-linejoin="round"/>
<g shape-rendering="crispEdges">
<rect x="435.2" y="406.5" width="30.8" height="30.8" fill="#fcfefd"/>
<rect x="466" y="406.5" width="31" height="30.8" fill="#93d1a5"/>
<rect x="497" y="406.5" width="30.8" height="30.8" fill="#b3dec0"/>
<rect x="527.8" y="406.5" width="30.7" height="30.8" fill="#9bd4ac"/>
<rect x="558.5" y="406.5" width="31" height="30.8" fill="#a8dab7"/>
<rect x="466" y="437.3" width="31" height="31" fill="#a5d8b5"/>
<rect x="497" y="437.3" width="30.8" height="31" fill="#7bc692"/>
<rect x="527.8" y="437.3" width="30.7" height="31" fill="#79c590"/>
<rect x="558.5" y="437.3" width="31" height="31" fill="#c2e5cd"/>
<rect x="435.2" y="468.3" width="30.8" height="30.2" fill="#cae8d3"/>
<rect x="466" y="468.3" width="31" height="30.2" fill="#61bb7c"/>
<rect x="497" y="468.3" width="30.8" height="30.2" fill="#d2ecda"/>
<rect x="558.5" y="468.3" width="31" height="30.2" fill="#b0ddbe"/>
<rect x="497" y="498.5" width="30.8" height="30.5" fill="#bde3c8"/>
<rect x="527.8" y="498.5" width="30.7" height="30.5" fill="#fcfefd"/>
<rect x="435.2" y="529" width="30.8" height="30.5" fill="#d2ecda"/>
<rect x="466" y="529" width="31" height="30.5" fill="#e2f3e7"/>
</g>
<path d="M435.2 406.5 V559.5 M435.2 406.5 H589.5 M466 406.5 V559.5 M435.2 437.3 H589.5 M497 406.5 V559.5 M435.2 468.3 H589.5 M527.8 406.5 V559.5 M435.2 498.5 H589.5 M558.5 406.5 V559.5 M435.2 529 H589.5 M589.5 406.5 V559.5 M435.2 559.5 H589.5" stroke="#2a2a2a" stroke-width="0.55" fill="none"/>
<text x="450.6" y="427.25" font-size="10.2" text-anchor="middle" font-weight="bold" font-style="normal" fill="#f80f16">0.1</text>
<text x="481.5" y="427.25" font-size="10.2" text-anchor="middle" font-weight="bold" font-style="normal" fill="#4472c4">4.1</text>
<text x="512.4" y="427.25" font-size="10.2" text-anchor="middle" font-weight="bold" font-style="normal" fill="#f80f16">2.9</text>
<text x="543.15" y="427.25" font-size="10.2" text-anchor="middle" font-weight="bold" font-style="normal" fill="#f80f16">3.8</text>
<text x="574" y="427.25" font-size="10.2" text-anchor="middle" font-weight="bold" font-style="normal" fill="#f80f16">3.3</text>
<text x="481.5" y="458.15" font-size="10.2" text-anchor="middle" font-weight="bold" font-style="normal" fill="#f80f16">3.4</text>
<text x="512.4" y="458.15" font-size="10.2" text-anchor="middle" font-weight="bold" font-style="normal" fill="#f80f16">5.0</text>
<text x="543.15" y="458.15" font-size="10.2" text-anchor="middle" font-weight="bold" font-style="normal" fill="#f80f16">5.1</text>
<text x="574" y="458.15" font-size="10.2" text-anchor="middle" font-weight="bold" font-style="normal" fill="#f80f16">2.3</text>
<text x="450.6" y="488.75" font-size="10.2" text-anchor="middle" font-weight="bold" font-style="normal" fill="#f80f16">2.0</text>
<text x="481.5" y="488.75" font-size="10.2" text-anchor="middle" font-weight="bold" font-style="normal" fill="#4472c4">6.0</text>
<text x="512.4" y="488.75" font-size="10.2" text-anchor="middle" font-weight="bold" font-style="normal" fill="#f80f16">1.7</text>
<text x="574" y="488.75" font-size="10.2" text-anchor="middle" font-weight="bold" font-style="normal" fill="#f80f16">3.0</text>
<text x="512.4" y="519.1" font-size="10.2" text-anchor="middle" font-weight="bold" font-style="normal" fill="#f80f16">2.5</text>
<text x="543.15" y="519.1" font-size="10.2" text-anchor="middle" font-weight="bold" font-style="normal" fill="#f80f16">0.1</text>
<text x="450.6" y="549.6" font-size="10.2" text-anchor="middle" font-weight="bold" font-style="normal" fill="#f80f16">1.7</text>
<text x="481.5" y="549.6" font-size="10.2" text-anchor="middle" font-weight="bold" font-style="normal" fill="#4472c4">1.1</text>
<path d="M396.1 389.8 V622.4 M379.6 606.1 H622.2" stroke="#000" stroke-width="3.3" fill="none"/>
<path d="M396.1 381 l5 9.3 h-10 z M631 606.1 l-9.3 -5 v10 z" fill="#000"/>
<text x="386.2" y="372.2" font-size="10.4" text-anchor="end" font-weight="normal" font-style="normal" fill="#111">Growth</text>
<text x="386.2" y="385" font-size="10.4" text-anchor="end" font-weight="normal" font-style="normal" fill="#111">Temp.</text>
<text x="349.3" y="424.5" font-size="10.4" text-anchor="start" font-weight="normal" font-style="normal" fill="#111">519 °C</text>
<text x="349.3" y="449.62" font-size="10.4" text-anchor="start" font-weight="normal" font-style="normal" fill="#111">508 °C</text>
<text x="349.3" y="474.74" font-size="10.4" text-anchor="start" font-weight="normal" font-style="normal" fill="#111">489 °C</text>
<text x="349.3" y="499.86" font-size="10.4" text-anchor="start" font-weight="normal" font-style="normal" fill="#111">471 °C</text>
<text x="349.3" y="524.98" font-size="10.4" text-anchor="start" font-weight="normal" font-style="normal" fill="#111">461 °C</text>
<text x="349.3" y="550.1" font-size="10.4" text-anchor="start" font-weight="normal" font-style="normal" fill="#111">455 °C</text>
<text x="409.5" y="627.8" font-size="10.4" text-anchor="start" font-weight="normal" font-style="normal" fill="#111">Bi<tspan font-size="7.5" dy="3">1.4153</tspan><tspan dy="-3">Fe</tspan><tspan font-size="7.5" dy="3">0.9978</tspan><tspan dy="-3">Mn</tspan><tspan font-size="7.5" dy="3">0.0022</tspan></text>
<text x="569.3" y="627.8" font-size="10.4" text-anchor="start" font-weight="normal" font-style="normal" fill="#111">Bi<tspan font-size="7.5" dy="3">1.3395</tspan><tspan dy="-3">Fe</tspan><tspan font-size="7.5" dy="3">0.9959</tspan><tspan dy="-3">Mn</tspan><tspan font-size="7.5" dy="3">0.0041</tspan></text>
</svg>
</body></html>
